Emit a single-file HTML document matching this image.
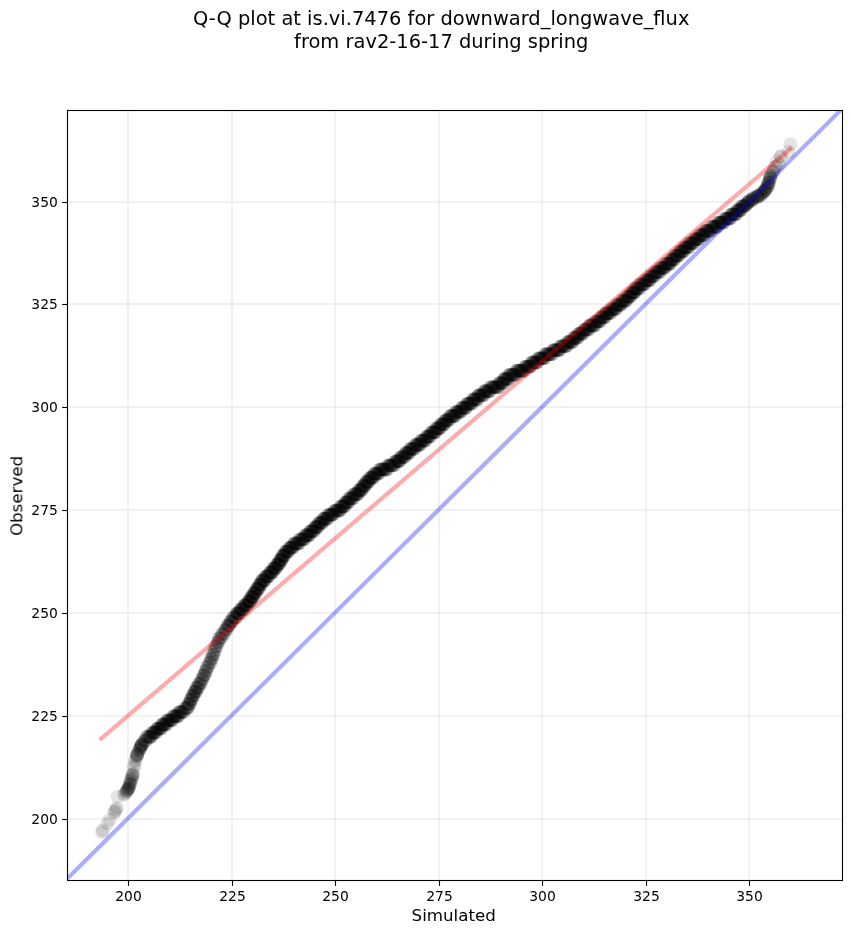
<!DOCTYPE html>
<html lang="en"><head><meta charset="utf-8"><title>Q-Q plot</title>
<style>html,body{margin:0;padding:0;background:#fff;overflow:hidden}svg{display:block}text{font-family:"DejaVu Sans","Liberation Sans",sans-serif;fill:#000}.t{opacity:.999}</style></head><body>
<svg width="851" height="934" viewBox="0 0 851 934">
<rect width="851" height="934" fill="#fff"/>
<clipPath id="ax"><rect x="67.5" y="110.5" width="775.0" height="770.0"/></clipPath>
<g clip-path="url(#ax)">
<g stroke="#b0b0b0" stroke-opacity="0.17" stroke-width="2">
<line x1="128" y1="110.5" x2="128" y2="880.5"/>
<line x1="232" y1="110.5" x2="232" y2="880.5"/>
<line x1="335" y1="110.5" x2="335" y2="880.5"/>
<line x1="439" y1="110.5" x2="439" y2="880.5"/>
<line x1="542" y1="110.5" x2="542" y2="880.5"/>
<line x1="646" y1="110.5" x2="646" y2="880.5"/>
<line x1="749" y1="110.5" x2="749" y2="880.5"/>
<line x1="67.5" y1="819" x2="842.5" y2="819"/>
<line x1="67.5" y1="716" x2="842.5" y2="716"/>
<line x1="67.5" y1="613" x2="842.5" y2="613"/>
<line x1="67.5" y1="510" x2="842.5" y2="510"/>
<line x1="67.5" y1="407" x2="842.5" y2="407"/>
<line x1="67.5" y1="304" x2="842.5" y2="304"/>
<line x1="67.5" y1="202" x2="842.5" y2="202"/>
</g>
<g fill="#000" fill-opacity="0.1">
<circle cx="102.8" cy="830.3" r="6.95"/>
<circle cx="101.9" cy="832.0" r="6.95"/>
<circle cx="107.4" cy="823.5" r="6.95"/>
<circle cx="109.6" cy="819.9" r="6.95"/>
<circle cx="114.2" cy="812.7" r="6.95"/>
<circle cx="115.0" cy="811.5" r="6.95"/>
<circle cx="115.7" cy="809.7" r="6.95"/>
<circle cx="117.1" cy="808.0" r="6.95"/>
<circle cx="117.6" cy="796.7" r="6.95"/>
<circle cx="124.1" cy="794.7" r="6.95"/>
<circle cx="124.5" cy="793.8" r="6.95"/>
<circle cx="127.3" cy="789.8" r="6.95"/>
<circle cx="126.6" cy="791.9" r="6.95"/>
<circle cx="126.5" cy="791.9" r="6.95"/>
<circle cx="126.6" cy="790.9" r="6.95"/>
<circle cx="128.0" cy="789.1" r="6.95"/>
<circle cx="127.8" cy="789.9" r="6.95"/>
<circle cx="128.8" cy="788.0" r="6.95"/>
<circle cx="129.1" cy="787.5" r="6.95"/>
<circle cx="128.3" cy="788.7" r="6.95"/>
<circle cx="130.6" cy="783.6" r="6.95"/>
<circle cx="129.8" cy="784.4" r="6.95"/>
<circle cx="129.6" cy="785.2" r="6.95"/>
<circle cx="130.0" cy="783.8" r="6.95"/>
<circle cx="129.0" cy="787.1" r="6.95"/>
<circle cx="130.1" cy="781.8" r="6.95"/>
<circle cx="131.1" cy="779.8" r="6.95"/>
<circle cx="131.8" cy="778.5" r="6.95"/>
<circle cx="131.0" cy="780.0" r="6.95"/>
<circle cx="132.7" cy="777.1" r="6.95"/>
<circle cx="133.2" cy="773.6" r="6.95"/>
<circle cx="132.7" cy="774.1" r="6.95"/>
<circle cx="132.3" cy="775.3" r="6.95"/>
<circle cx="132.4" cy="775.3" r="6.95"/>
<circle cx="133.8" cy="767.3" r="6.95"/>
<circle cx="134.4" cy="765.6" r="6.95"/>
<circle cx="135.5" cy="760.5" r="6.95"/>
<circle cx="135.2" cy="761.0" r="6.95"/>
<circle cx="136.8" cy="756.2" r="6.95"/>
<circle cx="136.3" cy="756.7" r="6.95"/>
<circle cx="137.5" cy="754.4" r="6.95"/>
<circle cx="137.1" cy="755.8" r="6.95"/>
<circle cx="137.0" cy="754.5" r="6.95"/>
<circle cx="137.5" cy="754.0" r="6.95"/>
<circle cx="137.4" cy="753.9" r="6.95"/>
<circle cx="140.8" cy="747.5" r="6.95"/>
<circle cx="140.0" cy="748.5" r="6.95"/>
<circle cx="140.5" cy="747.7" r="6.95"/>
<circle cx="138.8" cy="750.7" r="6.95"/>
<circle cx="139.9" cy="749.6" r="6.95"/>
<circle cx="139.0" cy="750.2" r="6.95"/>
<circle cx="140.7" cy="746.7" r="6.95"/>
<circle cx="141.8" cy="744.3" r="6.95"/>
<circle cx="142.0" cy="743.9" r="6.95"/>
<circle cx="141.7" cy="744.9" r="6.95"/>
<circle cx="141.8" cy="744.7" r="6.95"/>
<circle cx="141.8" cy="745.1" r="6.95"/>
<circle cx="141.4" cy="745.0" r="6.95"/>
<circle cx="140.6" cy="746.9" r="6.95"/>
<circle cx="144.0" cy="740.9" r="6.95"/>
<circle cx="144.5" cy="740.9" r="6.95"/>
<circle cx="145.0" cy="740.9" r="6.95"/>
<circle cx="145.3" cy="740.9" r="6.95"/>
<circle cx="146.1" cy="740.9" r="6.95"/>
<circle cx="146.2" cy="736.8" r="6.95"/>
<circle cx="146.8" cy="736.8" r="6.95"/>
<circle cx="147.5" cy="736.8" r="6.95"/>
<circle cx="147.7" cy="736.8" r="6.95"/>
<circle cx="148.7" cy="736.8" r="6.95"/>
<circle cx="149.0" cy="736.8" r="6.95"/>
<circle cx="149.7" cy="736.8" r="6.95"/>
<circle cx="149.8" cy="736.8" r="6.95"/>
<circle cx="150.2" cy="736.8" r="6.95"/>
<circle cx="150.7" cy="736.8" r="6.95"/>
<circle cx="151.2" cy="736.8" r="6.95"/>
<circle cx="151.3" cy="736.8" r="6.95"/>
<circle cx="151.9" cy="732.7" r="6.95"/>
<circle cx="152.2" cy="732.7" r="6.95"/>
<circle cx="153.0" cy="732.7" r="6.95"/>
<circle cx="152.9" cy="732.7" r="6.95"/>
<circle cx="153.6" cy="732.7" r="6.95"/>
<circle cx="153.7" cy="732.7" r="6.95"/>
<circle cx="154.0" cy="732.7" r="6.95"/>
<circle cx="154.5" cy="732.7" r="6.95"/>
<circle cx="154.8" cy="732.7" r="6.95"/>
<circle cx="155.4" cy="732.7" r="6.95"/>
<circle cx="156.0" cy="732.7" r="6.95"/>
<circle cx="156.2" cy="732.7" r="6.95"/>
<circle cx="156.7" cy="728.6" r="6.95"/>
<circle cx="157.3" cy="728.6" r="6.95"/>
<circle cx="157.4" cy="728.6" r="6.95"/>
<circle cx="157.8" cy="728.6" r="6.95"/>
<circle cx="158.1" cy="728.6" r="6.95"/>
<circle cx="158.3" cy="728.6" r="6.95"/>
<circle cx="159.1" cy="728.6" r="6.95"/>
<circle cx="159.0" cy="728.6" r="6.95"/>
<circle cx="159.9" cy="728.6" r="6.95"/>
<circle cx="160.2" cy="728.6" r="6.95"/>
<circle cx="160.8" cy="728.6" r="6.95"/>
<circle cx="161.0" cy="728.6" r="6.95"/>
<circle cx="161.2" cy="728.6" r="6.95"/>
<circle cx="161.9" cy="724.5" r="6.95"/>
<circle cx="162.1" cy="724.5" r="6.95"/>
<circle cx="162.5" cy="724.5" r="6.95"/>
<circle cx="163.0" cy="724.5" r="6.95"/>
<circle cx="163.4" cy="724.5" r="6.95"/>
<circle cx="163.7" cy="724.5" r="6.95"/>
<circle cx="164.0" cy="724.5" r="6.95"/>
<circle cx="164.5" cy="724.5" r="6.95"/>
<circle cx="164.6" cy="724.5" r="6.95"/>
<circle cx="165.4" cy="724.5" r="6.95"/>
<circle cx="165.5" cy="724.5" r="6.95"/>
<circle cx="166.4" cy="724.5" r="6.95"/>
<circle cx="166.9" cy="724.5" r="6.95"/>
<circle cx="166.6" cy="720.4" r="6.95"/>
<circle cx="167.4" cy="720.4" r="6.95"/>
<circle cx="167.8" cy="720.4" r="6.95"/>
<circle cx="168.0" cy="720.4" r="6.95"/>
<circle cx="168.7" cy="720.4" r="6.95"/>
<circle cx="169.0" cy="720.4" r="6.95"/>
<circle cx="169.1" cy="720.4" r="6.95"/>
<circle cx="169.9" cy="720.4" r="6.95"/>
<circle cx="170.3" cy="720.4" r="6.95"/>
<circle cx="170.7" cy="720.4" r="6.95"/>
<circle cx="170.9" cy="720.4" r="6.95"/>
<circle cx="171.7" cy="720.4" r="6.95"/>
<circle cx="172.1" cy="720.4" r="6.95"/>
<circle cx="172.2" cy="720.4" r="6.95"/>
<circle cx="172.7" cy="716.3" r="6.95"/>
<circle cx="173.2" cy="716.3" r="6.95"/>
<circle cx="173.6" cy="716.3" r="6.95"/>
<circle cx="174.4" cy="716.3" r="6.95"/>
<circle cx="174.6" cy="716.3" r="6.95"/>
<circle cx="174.7" cy="716.3" r="6.95"/>
<circle cx="175.2" cy="716.3" r="6.95"/>
<circle cx="175.8" cy="716.3" r="6.95"/>
<circle cx="176.7" cy="716.3" r="6.95"/>
<circle cx="176.6" cy="716.3" r="6.95"/>
<circle cx="177.1" cy="716.3" r="6.95"/>
<circle cx="177.5" cy="716.3" r="6.95"/>
<circle cx="177.9" cy="716.3" r="6.95"/>
<circle cx="178.8" cy="716.3" r="6.95"/>
<circle cx="178.6" cy="712.2" r="6.95"/>
<circle cx="179.3" cy="712.2" r="6.95"/>
<circle cx="179.6" cy="712.2" r="6.95"/>
<circle cx="180.1" cy="712.2" r="6.95"/>
<circle cx="180.1" cy="712.2" r="6.95"/>
<circle cx="181.1" cy="712.2" r="6.95"/>
<circle cx="181.2" cy="712.2" r="6.95"/>
<circle cx="181.7" cy="712.2" r="6.95"/>
<circle cx="181.9" cy="712.2" r="6.95"/>
<circle cx="182.6" cy="712.2" r="6.95"/>
<circle cx="183.4" cy="712.2" r="6.95"/>
<circle cx="184.1" cy="712.2" r="6.95"/>
<circle cx="184.7" cy="708.0" r="6.95"/>
<circle cx="185.4" cy="708.0" r="6.95"/>
<circle cx="185.9" cy="708.0" r="6.95"/>
<circle cx="186.3" cy="708.0" r="6.95"/>
<circle cx="187.1" cy="708.0" r="6.95"/>
<circle cx="187.4" cy="708.0" r="6.95"/>
<circle cx="187.6" cy="708.0" r="6.95"/>
<circle cx="188.1" cy="708.0" r="6.95"/>
<circle cx="188.5" cy="703.9" r="6.95"/>
<circle cx="188.6" cy="703.9" r="6.95"/>
<circle cx="188.8" cy="703.9" r="6.95"/>
<circle cx="189.4" cy="703.9" r="6.95"/>
<circle cx="189.9" cy="703.9" r="6.95"/>
<circle cx="189.9" cy="703.9" r="6.95"/>
<circle cx="190.2" cy="699.8" r="6.95"/>
<circle cx="190.5" cy="699.8" r="6.95"/>
<circle cx="191.1" cy="699.8" r="6.95"/>
<circle cx="190.9" cy="699.8" r="6.95"/>
<circle cx="191.6" cy="699.8" r="6.95"/>
<circle cx="192.1" cy="699.8" r="6.95"/>
<circle cx="192.1" cy="695.7" r="6.95"/>
<circle cx="192.8" cy="695.7" r="6.95"/>
<circle cx="193.0" cy="695.7" r="6.95"/>
<circle cx="193.1" cy="695.7" r="6.95"/>
<circle cx="193.6" cy="695.7" r="6.95"/>
<circle cx="193.6" cy="695.7" r="6.95"/>
<circle cx="194.1" cy="691.6" r="6.95"/>
<circle cx="194.9" cy="691.6" r="6.95"/>
<circle cx="194.7" cy="691.6" r="6.95"/>
<circle cx="195.6" cy="691.6" r="6.95"/>
<circle cx="195.5" cy="691.6" r="6.95"/>
<circle cx="196.1" cy="691.6" r="6.95"/>
<circle cx="196.2" cy="691.6" r="6.95"/>
<circle cx="196.1" cy="687.5" r="6.95"/>
<circle cx="196.9" cy="687.5" r="6.95"/>
<circle cx="197.5" cy="687.5" r="6.95"/>
<circle cx="197.6" cy="687.5" r="6.95"/>
<circle cx="198.0" cy="687.5" r="6.95"/>
<circle cx="198.7" cy="687.5" r="6.95"/>
<circle cx="199.0" cy="683.4" r="6.95"/>
<circle cx="199.1" cy="683.4" r="6.95"/>
<circle cx="199.7" cy="683.4" r="6.95"/>
<circle cx="200.3" cy="683.4" r="6.95"/>
<circle cx="200.5" cy="683.4" r="6.95"/>
<circle cx="201.2" cy="683.4" r="6.95"/>
<circle cx="201.8" cy="679.2" r="6.95"/>
<circle cx="201.9" cy="679.2" r="6.95"/>
<circle cx="202.1" cy="679.2" r="6.95"/>
<circle cx="202.5" cy="679.2" r="6.95"/>
<circle cx="203.2" cy="675.1" r="6.95"/>
<circle cx="203.8" cy="675.1" r="6.95"/>
<circle cx="204.1" cy="675.1" r="6.95"/>
<circle cx="204.6" cy="675.1" r="6.95"/>
<circle cx="204.8" cy="675.1" r="6.95"/>
<circle cx="205.4" cy="671.0" r="6.95"/>
<circle cx="205.7" cy="671.0" r="6.95"/>
<circle cx="206.1" cy="671.0" r="6.95"/>
<circle cx="206.3" cy="671.0" r="6.95"/>
<circle cx="206.7" cy="666.9" r="6.95"/>
<circle cx="207.4" cy="666.9" r="6.95"/>
<circle cx="207.7" cy="666.9" r="6.95"/>
<circle cx="208.3" cy="666.9" r="6.95"/>
<circle cx="209.1" cy="662.8" r="6.95"/>
<circle cx="209.4" cy="662.8" r="6.95"/>
<circle cx="210.5" cy="662.8" r="6.95"/>
<circle cx="210.6" cy="662.8" r="6.95"/>
<circle cx="210.7" cy="658.7" r="6.95"/>
<circle cx="211.5" cy="658.7" r="6.95"/>
<circle cx="211.9" cy="658.7" r="6.95"/>
<circle cx="212.2" cy="658.7" r="6.95"/>
<circle cx="212.9" cy="654.6" r="6.95"/>
<circle cx="212.9" cy="654.6" r="6.95"/>
<circle cx="212.9" cy="654.6" r="6.95"/>
<circle cx="214.0" cy="654.6" r="6.95"/>
<circle cx="214.1" cy="650.5" r="6.95"/>
<circle cx="214.9" cy="650.5" r="6.95"/>
<circle cx="214.9" cy="650.5" r="6.95"/>
<circle cx="215.2" cy="646.3" r="6.95"/>
<circle cx="216.2" cy="646.3" r="6.95"/>
<circle cx="216.1" cy="646.3" r="6.95"/>
<circle cx="216.9" cy="646.3" r="6.95"/>
<circle cx="217.6" cy="642.2" r="6.95"/>
<circle cx="217.7" cy="642.2" r="6.95"/>
<circle cx="218.1" cy="642.2" r="6.95"/>
<circle cx="218.6" cy="642.2" r="6.95"/>
<circle cx="219.1" cy="638.1" r="6.95"/>
<circle cx="219.2" cy="638.1" r="6.95"/>
<circle cx="220.0" cy="638.1" r="6.95"/>
<circle cx="220.6" cy="638.1" r="6.95"/>
<circle cx="221.5" cy="638.1" r="6.95"/>
<circle cx="221.6" cy="634.0" r="6.95"/>
<circle cx="222.1" cy="634.0" r="6.95"/>
<circle cx="223.0" cy="634.0" r="6.95"/>
<circle cx="223.4" cy="634.0" r="6.95"/>
<circle cx="224.2" cy="634.0" r="6.95"/>
<circle cx="224.7" cy="629.9" r="6.95"/>
<circle cx="225.5" cy="629.9" r="6.95"/>
<circle cx="225.8" cy="629.9" r="6.95"/>
<circle cx="226.3" cy="629.9" r="6.95"/>
<circle cx="226.3" cy="629.9" r="6.95"/>
<circle cx="227.0" cy="625.8" r="6.95"/>
<circle cx="227.9" cy="625.8" r="6.95"/>
<circle cx="227.8" cy="625.8" r="6.95"/>
<circle cx="228.2" cy="625.8" r="6.95"/>
<circle cx="228.5" cy="625.8" r="6.95"/>
<circle cx="229.3" cy="625.8" r="6.95"/>
<circle cx="229.6" cy="625.8" r="6.95"/>
<circle cx="229.7" cy="621.7" r="6.95"/>
<circle cx="230.5" cy="621.7" r="6.95"/>
<circle cx="230.8" cy="621.7" r="6.95"/>
<circle cx="231.3" cy="621.7" r="6.95"/>
<circle cx="231.4" cy="621.7" r="6.95"/>
<circle cx="232.3" cy="621.7" r="6.95"/>
<circle cx="232.5" cy="621.7" r="6.95"/>
<circle cx="232.8" cy="617.5" r="6.95"/>
<circle cx="233.2" cy="617.5" r="6.95"/>
<circle cx="233.7" cy="617.5" r="6.95"/>
<circle cx="234.4" cy="617.5" r="6.95"/>
<circle cx="234.6" cy="617.5" r="6.95"/>
<circle cx="235.4" cy="617.5" r="6.95"/>
<circle cx="235.8" cy="617.5" r="6.95"/>
<circle cx="236.3" cy="617.5" r="6.95"/>
<circle cx="236.6" cy="613.4" r="6.95"/>
<circle cx="236.7" cy="613.4" r="6.95"/>
<circle cx="236.7" cy="613.4" r="6.95"/>
<circle cx="237.5" cy="613.4" r="6.95"/>
<circle cx="237.9" cy="613.4" r="6.95"/>
<circle cx="238.1" cy="613.4" r="6.95"/>
<circle cx="238.6" cy="613.4" r="6.95"/>
<circle cx="238.7" cy="613.4" r="6.95"/>
<circle cx="239.0" cy="613.4" r="6.95"/>
<circle cx="239.3" cy="613.4" r="6.95"/>
<circle cx="240.1" cy="613.4" r="6.95"/>
<circle cx="240.2" cy="609.3" r="6.95"/>
<circle cx="240.4" cy="609.3" r="6.95"/>
<circle cx="240.5" cy="609.3" r="6.95"/>
<circle cx="241.2" cy="609.3" r="6.95"/>
<circle cx="241.8" cy="609.3" r="6.95"/>
<circle cx="242.0" cy="609.3" r="6.95"/>
<circle cx="242.1" cy="609.3" r="6.95"/>
<circle cx="242.9" cy="609.3" r="6.95"/>
<circle cx="243.2" cy="609.3" r="6.95"/>
<circle cx="243.5" cy="609.3" r="6.95"/>
<circle cx="243.8" cy="609.3" r="6.95"/>
<circle cx="244.2" cy="605.2" r="6.95"/>
<circle cx="244.5" cy="605.2" r="6.95"/>
<circle cx="244.9" cy="605.2" r="6.95"/>
<circle cx="244.9" cy="605.2" r="6.95"/>
<circle cx="245.7" cy="605.2" r="6.95"/>
<circle cx="245.8" cy="605.2" r="6.95"/>
<circle cx="246.5" cy="605.2" r="6.95"/>
<circle cx="246.1" cy="605.2" r="6.95"/>
<circle cx="247.0" cy="605.2" r="6.95"/>
<circle cx="247.4" cy="605.2" r="6.95"/>
<circle cx="247.4" cy="605.2" r="6.95"/>
<circle cx="248.0" cy="601.1" r="6.95"/>
<circle cx="248.4" cy="601.1" r="6.95"/>
<circle cx="248.7" cy="601.1" r="6.95"/>
<circle cx="248.8" cy="601.1" r="6.95"/>
<circle cx="249.3" cy="601.1" r="6.95"/>
<circle cx="249.8" cy="601.1" r="6.95"/>
<circle cx="250.1" cy="601.1" r="6.95"/>
<circle cx="250.1" cy="601.1" r="6.95"/>
<circle cx="250.4" cy="601.1" r="6.95"/>
<circle cx="250.7" cy="601.1" r="6.95"/>
<circle cx="251.2" cy="597.0" r="6.95"/>
<circle cx="251.0" cy="597.0" r="6.95"/>
<circle cx="251.3" cy="597.0" r="6.95"/>
<circle cx="251.8" cy="597.0" r="6.95"/>
<circle cx="251.9" cy="597.0" r="6.95"/>
<circle cx="252.2" cy="597.0" r="6.95"/>
<circle cx="252.7" cy="597.0" r="6.95"/>
<circle cx="253.0" cy="597.0" r="6.95"/>
<circle cx="253.0" cy="597.0" r="6.95"/>
<circle cx="253.6" cy="597.0" r="6.95"/>
<circle cx="253.4" cy="592.9" r="6.95"/>
<circle cx="254.1" cy="592.9" r="6.95"/>
<circle cx="254.0" cy="592.9" r="6.95"/>
<circle cx="254.3" cy="592.9" r="6.95"/>
<circle cx="255.0" cy="592.9" r="6.95"/>
<circle cx="255.1" cy="592.9" r="6.95"/>
<circle cx="255.3" cy="592.9" r="6.95"/>
<circle cx="255.6" cy="592.9" r="6.95"/>
<circle cx="256.1" cy="592.9" r="6.95"/>
<circle cx="256.3" cy="588.8" r="6.95"/>
<circle cx="256.5" cy="588.8" r="6.95"/>
<circle cx="257.1" cy="588.8" r="6.95"/>
<circle cx="257.0" cy="588.8" r="6.95"/>
<circle cx="257.3" cy="588.8" r="6.95"/>
<circle cx="257.6" cy="588.8" r="6.95"/>
<circle cx="258.2" cy="588.8" r="6.95"/>
<circle cx="258.4" cy="588.8" r="6.95"/>
<circle cx="258.8" cy="588.8" r="6.95"/>
<circle cx="258.8" cy="588.8" r="6.95"/>
<circle cx="259.0" cy="584.6" r="6.95"/>
<circle cx="259.5" cy="584.6" r="6.95"/>
<circle cx="259.5" cy="584.6" r="6.95"/>
<circle cx="260.1" cy="584.6" r="6.95"/>
<circle cx="260.3" cy="584.6" r="6.95"/>
<circle cx="260.3" cy="584.6" r="6.95"/>
<circle cx="260.7" cy="584.6" r="6.95"/>
<circle cx="261.0" cy="584.6" r="6.95"/>
<circle cx="261.7" cy="584.6" r="6.95"/>
<circle cx="262.1" cy="580.5" r="6.95"/>
<circle cx="261.9" cy="580.5" r="6.95"/>
<circle cx="262.3" cy="580.5" r="6.95"/>
<circle cx="262.2" cy="580.5" r="6.95"/>
<circle cx="263.1" cy="580.5" r="6.95"/>
<circle cx="263.4" cy="580.5" r="6.95"/>
<circle cx="263.5" cy="580.5" r="6.95"/>
<circle cx="264.2" cy="580.5" r="6.95"/>
<circle cx="264.1" cy="580.5" r="6.95"/>
<circle cx="264.7" cy="580.5" r="6.95"/>
<circle cx="265.2" cy="580.5" r="6.95"/>
<circle cx="265.3" cy="576.4" r="6.95"/>
<circle cx="266.0" cy="576.4" r="6.95"/>
<circle cx="266.4" cy="576.4" r="6.95"/>
<circle cx="266.3" cy="576.4" r="6.95"/>
<circle cx="266.6" cy="576.4" r="6.95"/>
<circle cx="267.4" cy="576.4" r="6.95"/>
<circle cx="267.6" cy="576.4" r="6.95"/>
<circle cx="267.8" cy="576.4" r="6.95"/>
<circle cx="268.3" cy="576.4" r="6.95"/>
<circle cx="268.7" cy="576.4" r="6.95"/>
<circle cx="269.0" cy="576.4" r="6.95"/>
<circle cx="269.6" cy="572.3" r="6.95"/>
<circle cx="269.8" cy="572.3" r="6.95"/>
<circle cx="270.5" cy="572.3" r="6.95"/>
<circle cx="270.7" cy="572.3" r="6.95"/>
<circle cx="270.9" cy="572.3" r="6.95"/>
<circle cx="271.3" cy="572.3" r="6.95"/>
<circle cx="271.7" cy="572.3" r="6.95"/>
<circle cx="271.9" cy="572.3" r="6.95"/>
<circle cx="271.9" cy="572.3" r="6.95"/>
<circle cx="272.6" cy="572.3" r="6.95"/>
<circle cx="272.8" cy="572.3" r="6.95"/>
<circle cx="273.4" cy="568.2" r="6.95"/>
<circle cx="273.5" cy="568.2" r="6.95"/>
<circle cx="273.9" cy="568.2" r="6.95"/>
<circle cx="274.2" cy="568.2" r="6.95"/>
<circle cx="274.7" cy="568.2" r="6.95"/>
<circle cx="274.8" cy="568.2" r="6.95"/>
<circle cx="275.0" cy="568.2" r="6.95"/>
<circle cx="275.5" cy="568.2" r="6.95"/>
<circle cx="275.6" cy="568.2" r="6.95"/>
<circle cx="276.1" cy="568.2" r="6.95"/>
<circle cx="276.4" cy="568.2" r="6.95"/>
<circle cx="276.8" cy="564.1" r="6.95"/>
<circle cx="277.4" cy="564.1" r="6.95"/>
<circle cx="277.3" cy="564.1" r="6.95"/>
<circle cx="277.7" cy="564.1" r="6.95"/>
<circle cx="278.0" cy="564.1" r="6.95"/>
<circle cx="278.5" cy="564.1" r="6.95"/>
<circle cx="278.4" cy="564.1" r="6.95"/>
<circle cx="278.8" cy="564.1" r="6.95"/>
<circle cx="279.2" cy="564.1" r="6.95"/>
<circle cx="279.6" cy="564.1" r="6.95"/>
<circle cx="279.7" cy="560.0" r="6.95"/>
<circle cx="279.9" cy="560.0" r="6.95"/>
<circle cx="280.1" cy="560.0" r="6.95"/>
<circle cx="280.6" cy="560.0" r="6.95"/>
<circle cx="281.1" cy="560.0" r="6.95"/>
<circle cx="281.1" cy="560.0" r="6.95"/>
<circle cx="281.4" cy="560.0" r="6.95"/>
<circle cx="281.7" cy="560.0" r="6.95"/>
<circle cx="281.7" cy="560.0" r="6.95"/>
<circle cx="282.1" cy="555.8" r="6.95"/>
<circle cx="282.3" cy="555.8" r="6.95"/>
<circle cx="282.7" cy="555.8" r="6.95"/>
<circle cx="282.9" cy="555.8" r="6.95"/>
<circle cx="283.0" cy="555.8" r="6.95"/>
<circle cx="283.7" cy="555.8" r="6.95"/>
<circle cx="284.1" cy="555.8" r="6.95"/>
<circle cx="284.0" cy="555.8" r="6.95"/>
<circle cx="284.4" cy="555.8" r="6.95"/>
<circle cx="284.7" cy="555.8" r="6.95"/>
<circle cx="285.2" cy="551.7" r="6.95"/>
<circle cx="285.1" cy="551.7" r="6.95"/>
<circle cx="286.1" cy="551.7" r="6.95"/>
<circle cx="286.1" cy="551.7" r="6.95"/>
<circle cx="286.8" cy="551.7" r="6.95"/>
<circle cx="286.9" cy="551.7" r="6.95"/>
<circle cx="287.2" cy="551.7" r="6.95"/>
<circle cx="287.6" cy="551.7" r="6.95"/>
<circle cx="288.2" cy="551.7" r="6.95"/>
<circle cx="288.2" cy="551.7" r="6.95"/>
<circle cx="288.7" cy="551.7" r="6.95"/>
<circle cx="289.0" cy="547.6" r="6.95"/>
<circle cx="289.2" cy="547.6" r="6.95"/>
<circle cx="290.2" cy="547.6" r="6.95"/>
<circle cx="290.4" cy="547.6" r="6.95"/>
<circle cx="290.6" cy="547.6" r="6.95"/>
<circle cx="291.3" cy="547.6" r="6.95"/>
<circle cx="291.2" cy="547.6" r="6.95"/>
<circle cx="291.8" cy="547.6" r="6.95"/>
<circle cx="292.5" cy="547.6" r="6.95"/>
<circle cx="292.7" cy="547.6" r="6.95"/>
<circle cx="292.5" cy="547.6" r="6.95"/>
<circle cx="292.6" cy="547.6" r="6.95"/>
<circle cx="293.5" cy="543.5" r="6.95"/>
<circle cx="294.3" cy="543.5" r="6.95"/>
<circle cx="294.4" cy="543.5" r="6.95"/>
<circle cx="294.8" cy="543.5" r="6.95"/>
<circle cx="295.4" cy="543.5" r="6.95"/>
<circle cx="295.6" cy="543.5" r="6.95"/>
<circle cx="296.2" cy="543.5" r="6.95"/>
<circle cx="296.7" cy="543.5" r="6.95"/>
<circle cx="297.1" cy="543.5" r="6.95"/>
<circle cx="297.5" cy="543.5" r="6.95"/>
<circle cx="297.7" cy="543.5" r="6.95"/>
<circle cx="298.3" cy="543.5" r="6.95"/>
<circle cx="298.6" cy="543.5" r="6.95"/>
<circle cx="299.4" cy="543.5" r="6.95"/>
<circle cx="300.0" cy="539.4" r="6.95"/>
<circle cx="299.8" cy="539.4" r="6.95"/>
<circle cx="299.9" cy="539.4" r="6.95"/>
<circle cx="300.7" cy="539.4" r="6.95"/>
<circle cx="301.3" cy="539.4" r="6.95"/>
<circle cx="301.8" cy="539.4" r="6.95"/>
<circle cx="302.3" cy="539.4" r="6.95"/>
<circle cx="302.3" cy="539.4" r="6.95"/>
<circle cx="302.7" cy="539.4" r="6.95"/>
<circle cx="303.5" cy="539.4" r="6.95"/>
<circle cx="303.5" cy="539.4" r="6.95"/>
<circle cx="304.3" cy="539.4" r="6.95"/>
<circle cx="304.4" cy="539.4" r="6.95"/>
<circle cx="305.0" cy="535.3" r="6.95"/>
<circle cx="305.4" cy="535.3" r="6.95"/>
<circle cx="305.8" cy="535.3" r="6.95"/>
<circle cx="306.2" cy="535.3" r="6.95"/>
<circle cx="306.2" cy="535.3" r="6.95"/>
<circle cx="306.9" cy="535.3" r="6.95"/>
<circle cx="307.2" cy="535.3" r="6.95"/>
<circle cx="307.6" cy="535.3" r="6.95"/>
<circle cx="308.2" cy="535.3" r="6.95"/>
<circle cx="308.3" cy="535.3" r="6.95"/>
<circle cx="308.6" cy="535.3" r="6.95"/>
<circle cx="309.0" cy="535.3" r="6.95"/>
<circle cx="309.5" cy="535.3" r="6.95"/>
<circle cx="310.1" cy="531.2" r="6.95"/>
<circle cx="310.2" cy="531.2" r="6.95"/>
<circle cx="311.0" cy="531.2" r="6.95"/>
<circle cx="311.2" cy="531.2" r="6.95"/>
<circle cx="311.5" cy="531.2" r="6.95"/>
<circle cx="311.6" cy="531.2" r="6.95"/>
<circle cx="312.3" cy="531.2" r="6.95"/>
<circle cx="312.8" cy="531.2" r="6.95"/>
<circle cx="312.7" cy="531.2" r="6.95"/>
<circle cx="313.7" cy="531.2" r="6.95"/>
<circle cx="314.1" cy="531.2" r="6.95"/>
<circle cx="314.2" cy="531.2" r="6.95"/>
<circle cx="314.6" cy="527.1" r="6.95"/>
<circle cx="315.3" cy="527.1" r="6.95"/>
<circle cx="315.5" cy="527.1" r="6.95"/>
<circle cx="315.4" cy="527.1" r="6.95"/>
<circle cx="316.0" cy="527.1" r="6.95"/>
<circle cx="316.3" cy="527.1" r="6.95"/>
<circle cx="316.6" cy="527.1" r="6.95"/>
<circle cx="316.6" cy="527.1" r="6.95"/>
<circle cx="317.6" cy="527.1" r="6.95"/>
<circle cx="317.6" cy="527.1" r="6.95"/>
<circle cx="318.1" cy="527.1" r="6.95"/>
<circle cx="318.5" cy="522.9" r="6.95"/>
<circle cx="319.0" cy="522.9" r="6.95"/>
<circle cx="319.2" cy="522.9" r="6.95"/>
<circle cx="319.4" cy="522.9" r="6.95"/>
<circle cx="320.1" cy="522.9" r="6.95"/>
<circle cx="320.6" cy="522.9" r="6.95"/>
<circle cx="320.6" cy="522.9" r="6.95"/>
<circle cx="321.3" cy="522.9" r="6.95"/>
<circle cx="321.5" cy="522.9" r="6.95"/>
<circle cx="321.6" cy="522.9" r="6.95"/>
<circle cx="322.4" cy="522.9" r="6.95"/>
<circle cx="322.4" cy="522.9" r="6.95"/>
<circle cx="323.2" cy="518.8" r="6.95"/>
<circle cx="323.3" cy="518.8" r="6.95"/>
<circle cx="323.8" cy="518.8" r="6.95"/>
<circle cx="324.0" cy="518.8" r="6.95"/>
<circle cx="324.4" cy="518.8" r="6.95"/>
<circle cx="325.2" cy="518.8" r="6.95"/>
<circle cx="325.4" cy="518.8" r="6.95"/>
<circle cx="325.8" cy="518.8" r="6.95"/>
<circle cx="326.1" cy="518.8" r="6.95"/>
<circle cx="326.7" cy="518.8" r="6.95"/>
<circle cx="326.8" cy="518.8" r="6.95"/>
<circle cx="327.2" cy="518.8" r="6.95"/>
<circle cx="327.8" cy="518.8" r="6.95"/>
<circle cx="328.1" cy="514.7" r="6.95"/>
<circle cx="328.5" cy="514.7" r="6.95"/>
<circle cx="329.1" cy="514.7" r="6.95"/>
<circle cx="329.5" cy="514.7" r="6.95"/>
<circle cx="329.9" cy="514.7" r="6.95"/>
<circle cx="330.6" cy="514.7" r="6.95"/>
<circle cx="330.9" cy="514.7" r="6.95"/>
<circle cx="331.4" cy="514.7" r="6.95"/>
<circle cx="331.5" cy="514.7" r="6.95"/>
<circle cx="331.9" cy="514.7" r="6.95"/>
<circle cx="332.1" cy="514.7" r="6.95"/>
<circle cx="332.8" cy="514.7" r="6.95"/>
<circle cx="332.8" cy="514.7" r="6.95"/>
<circle cx="333.6" cy="514.7" r="6.95"/>
<circle cx="334.3" cy="510.6" r="6.95"/>
<circle cx="334.9" cy="510.6" r="6.95"/>
<circle cx="335.2" cy="510.6" r="6.95"/>
<circle cx="335.2" cy="510.6" r="6.95"/>
<circle cx="336.0" cy="510.6" r="6.95"/>
<circle cx="336.1" cy="510.6" r="6.95"/>
<circle cx="336.9" cy="510.6" r="6.95"/>
<circle cx="337.1" cy="510.6" r="6.95"/>
<circle cx="337.8" cy="510.6" r="6.95"/>
<circle cx="338.5" cy="510.6" r="6.95"/>
<circle cx="338.6" cy="510.6" r="6.95"/>
<circle cx="339.3" cy="510.6" r="6.95"/>
<circle cx="339.3" cy="510.6" r="6.95"/>
<circle cx="339.7" cy="510.6" r="6.95"/>
<circle cx="340.4" cy="510.6" r="6.95"/>
<circle cx="341.0" cy="506.5" r="6.95"/>
<circle cx="340.9" cy="506.5" r="6.95"/>
<circle cx="341.4" cy="506.5" r="6.95"/>
<circle cx="341.4" cy="506.5" r="6.95"/>
<circle cx="342.1" cy="506.5" r="6.95"/>
<circle cx="342.6" cy="506.5" r="6.95"/>
<circle cx="342.8" cy="506.5" r="6.95"/>
<circle cx="343.1" cy="506.5" r="6.95"/>
<circle cx="343.3" cy="506.5" r="6.95"/>
<circle cx="344.0" cy="506.5" r="6.95"/>
<circle cx="344.4" cy="506.5" r="6.95"/>
<circle cx="344.8" cy="506.5" r="6.95"/>
<circle cx="345.1" cy="502.4" r="6.95"/>
<circle cx="345.1" cy="502.4" r="6.95"/>
<circle cx="346.1" cy="502.4" r="6.95"/>
<circle cx="346.1" cy="502.4" r="6.95"/>
<circle cx="346.5" cy="502.4" r="6.95"/>
<circle cx="347.0" cy="502.4" r="6.95"/>
<circle cx="346.8" cy="502.4" r="6.95"/>
<circle cx="347.6" cy="502.4" r="6.95"/>
<circle cx="347.9" cy="502.4" r="6.95"/>
<circle cx="348.4" cy="502.4" r="6.95"/>
<circle cx="348.9" cy="502.4" r="6.95"/>
<circle cx="349.1" cy="498.3" r="6.95"/>
<circle cx="349.1" cy="498.3" r="6.95"/>
<circle cx="349.7" cy="498.3" r="6.95"/>
<circle cx="350.2" cy="498.3" r="6.95"/>
<circle cx="350.6" cy="498.3" r="6.95"/>
<circle cx="350.7" cy="498.3" r="6.95"/>
<circle cx="351.0" cy="498.3" r="6.95"/>
<circle cx="351.9" cy="498.3" r="6.95"/>
<circle cx="352.2" cy="498.3" r="6.95"/>
<circle cx="352.6" cy="498.3" r="6.95"/>
<circle cx="352.6" cy="498.3" r="6.95"/>
<circle cx="353.7" cy="498.3" r="6.95"/>
<circle cx="353.1" cy="494.1" r="6.95"/>
<circle cx="354.1" cy="494.1" r="6.95"/>
<circle cx="355.0" cy="494.1" r="6.95"/>
<circle cx="354.9" cy="494.1" r="6.95"/>
<circle cx="355.4" cy="494.1" r="6.95"/>
<circle cx="355.5" cy="494.1" r="6.95"/>
<circle cx="356.4" cy="494.1" r="6.95"/>
<circle cx="356.2" cy="494.1" r="6.95"/>
<circle cx="357.0" cy="494.1" r="6.95"/>
<circle cx="357.3" cy="494.1" r="6.95"/>
<circle cx="357.5" cy="494.1" r="6.95"/>
<circle cx="358.3" cy="494.1" r="6.95"/>
<circle cx="358.2" cy="494.1" r="6.95"/>
<circle cx="358.7" cy="490.0" r="6.95"/>
<circle cx="359.2" cy="490.0" r="6.95"/>
<circle cx="359.4" cy="490.0" r="6.95"/>
<circle cx="360.0" cy="490.0" r="6.95"/>
<circle cx="360.4" cy="490.0" r="6.95"/>
<circle cx="360.5" cy="490.0" r="6.95"/>
<circle cx="360.7" cy="490.0" r="6.95"/>
<circle cx="361.1" cy="490.0" r="6.95"/>
<circle cx="361.4" cy="490.0" r="6.95"/>
<circle cx="362.0" cy="490.0" r="6.95"/>
<circle cx="362.1" cy="490.0" r="6.95"/>
<circle cx="362.6" cy="485.9" r="6.95"/>
<circle cx="362.8" cy="485.9" r="6.95"/>
<circle cx="363.0" cy="485.9" r="6.95"/>
<circle cx="363.7" cy="485.9" r="6.95"/>
<circle cx="363.6" cy="485.9" r="6.95"/>
<circle cx="364.2" cy="485.9" r="6.95"/>
<circle cx="364.8" cy="485.9" r="6.95"/>
<circle cx="364.6" cy="485.9" r="6.95"/>
<circle cx="365.1" cy="485.9" r="6.95"/>
<circle cx="365.2" cy="485.9" r="6.95"/>
<circle cx="365.7" cy="481.8" r="6.95"/>
<circle cx="365.8" cy="481.8" r="6.95"/>
<circle cx="366.4" cy="481.8" r="6.95"/>
<circle cx="366.7" cy="481.8" r="6.95"/>
<circle cx="367.1" cy="481.8" r="6.95"/>
<circle cx="367.8" cy="481.8" r="6.95"/>
<circle cx="367.8" cy="481.8" r="6.95"/>
<circle cx="368.2" cy="481.8" r="6.95"/>
<circle cx="368.5" cy="481.8" r="6.95"/>
<circle cx="368.8" cy="481.8" r="6.95"/>
<circle cx="369.1" cy="481.8" r="6.95"/>
<circle cx="369.3" cy="477.7" r="6.95"/>
<circle cx="370.0" cy="477.7" r="6.95"/>
<circle cx="370.7" cy="477.7" r="6.95"/>
<circle cx="370.9" cy="477.7" r="6.95"/>
<circle cx="371.0" cy="477.7" r="6.95"/>
<circle cx="371.8" cy="477.7" r="6.95"/>
<circle cx="371.8" cy="477.7" r="6.95"/>
<circle cx="372.2" cy="477.7" r="6.95"/>
<circle cx="372.4" cy="477.7" r="6.95"/>
<circle cx="372.8" cy="477.7" r="6.95"/>
<circle cx="373.4" cy="477.7" r="6.95"/>
<circle cx="374.2" cy="477.7" r="6.95"/>
<circle cx="374.1" cy="473.6" r="6.95"/>
<circle cx="374.3" cy="473.6" r="6.95"/>
<circle cx="374.8" cy="473.6" r="6.95"/>
<circle cx="375.3" cy="473.6" r="6.95"/>
<circle cx="375.4" cy="473.6" r="6.95"/>
<circle cx="376.1" cy="473.6" r="6.95"/>
<circle cx="376.6" cy="473.6" r="6.95"/>
<circle cx="376.9" cy="473.6" r="6.95"/>
<circle cx="377.3" cy="473.6" r="6.95"/>
<circle cx="377.3" cy="473.6" r="6.95"/>
<circle cx="377.7" cy="473.6" r="6.95"/>
<circle cx="378.8" cy="473.6" r="6.95"/>
<circle cx="379.2" cy="473.6" r="6.95"/>
<circle cx="379.1" cy="469.5" r="6.95"/>
<circle cx="380.0" cy="469.5" r="6.95"/>
<circle cx="380.4" cy="469.5" r="6.95"/>
<circle cx="380.9" cy="469.5" r="6.95"/>
<circle cx="381.3" cy="469.5" r="6.95"/>
<circle cx="381.6" cy="469.5" r="6.95"/>
<circle cx="382.2" cy="469.5" r="6.95"/>
<circle cx="382.7" cy="469.5" r="6.95"/>
<circle cx="383.1" cy="469.5" r="6.95"/>
<circle cx="383.2" cy="469.5" r="6.95"/>
<circle cx="383.4" cy="469.5" r="6.95"/>
<circle cx="384.3" cy="469.5" r="6.95"/>
<circle cx="384.6" cy="469.5" r="6.95"/>
<circle cx="385.5" cy="469.5" r="6.95"/>
<circle cx="386.0" cy="469.5" r="6.95"/>
<circle cx="386.4" cy="469.5" r="6.95"/>
<circle cx="386.7" cy="469.5" r="6.95"/>
<circle cx="387.3" cy="469.5" r="6.95"/>
<circle cx="387.9" cy="465.4" r="6.95"/>
<circle cx="388.0" cy="465.4" r="6.95"/>
<circle cx="388.8" cy="465.4" r="6.95"/>
<circle cx="389.2" cy="465.4" r="6.95"/>
<circle cx="389.5" cy="465.4" r="6.95"/>
<circle cx="390.2" cy="465.4" r="6.95"/>
<circle cx="390.2" cy="465.4" r="6.95"/>
<circle cx="391.0" cy="465.4" r="6.95"/>
<circle cx="391.1" cy="465.4" r="6.95"/>
<circle cx="391.6" cy="465.4" r="6.95"/>
<circle cx="392.0" cy="465.4" r="6.95"/>
<circle cx="392.7" cy="465.4" r="6.95"/>
<circle cx="392.9" cy="465.4" r="6.95"/>
<circle cx="393.5" cy="465.4" r="6.95"/>
<circle cx="393.8" cy="465.4" r="6.95"/>
<circle cx="394.6" cy="465.4" r="6.95"/>
<circle cx="395.2" cy="461.2" r="6.95"/>
<circle cx="395.3" cy="461.2" r="6.95"/>
<circle cx="396.1" cy="461.2" r="6.95"/>
<circle cx="396.3" cy="461.2" r="6.95"/>
<circle cx="397.0" cy="461.2" r="6.95"/>
<circle cx="397.0" cy="461.2" r="6.95"/>
<circle cx="397.1" cy="461.2" r="6.95"/>
<circle cx="398.1" cy="461.2" r="6.95"/>
<circle cx="398.2" cy="461.2" r="6.95"/>
<circle cx="398.4" cy="461.2" r="6.95"/>
<circle cx="398.8" cy="461.2" r="6.95"/>
<circle cx="399.0" cy="461.2" r="6.95"/>
<circle cx="399.7" cy="461.2" r="6.95"/>
<circle cx="399.9" cy="461.2" r="6.95"/>
<circle cx="400.8" cy="457.1" r="6.95"/>
<circle cx="401.1" cy="457.1" r="6.95"/>
<circle cx="401.0" cy="457.1" r="6.95"/>
<circle cx="401.4" cy="457.1" r="6.95"/>
<circle cx="402.0" cy="457.1" r="6.95"/>
<circle cx="402.1" cy="457.1" r="6.95"/>
<circle cx="402.8" cy="457.1" r="6.95"/>
<circle cx="403.3" cy="457.1" r="6.95"/>
<circle cx="403.5" cy="457.1" r="6.95"/>
<circle cx="403.9" cy="457.1" r="6.95"/>
<circle cx="404.5" cy="457.1" r="6.95"/>
<circle cx="405.1" cy="457.1" r="6.95"/>
<circle cx="405.5" cy="453.0" r="6.95"/>
<circle cx="405.6" cy="453.0" r="6.95"/>
<circle cx="406.2" cy="453.0" r="6.95"/>
<circle cx="406.2" cy="453.0" r="6.95"/>
<circle cx="406.9" cy="453.0" r="6.95"/>
<circle cx="407.0" cy="453.0" r="6.95"/>
<circle cx="407.7" cy="453.0" r="6.95"/>
<circle cx="407.7" cy="453.0" r="6.95"/>
<circle cx="408.1" cy="453.0" r="6.95"/>
<circle cx="408.7" cy="453.0" r="6.95"/>
<circle cx="409.2" cy="453.0" r="6.95"/>
<circle cx="409.2" cy="453.0" r="6.95"/>
<circle cx="409.8" cy="448.9" r="6.95"/>
<circle cx="410.3" cy="448.9" r="6.95"/>
<circle cx="410.7" cy="448.9" r="6.95"/>
<circle cx="410.9" cy="448.9" r="6.95"/>
<circle cx="411.4" cy="448.9" r="6.95"/>
<circle cx="411.7" cy="448.9" r="6.95"/>
<circle cx="412.5" cy="448.9" r="6.95"/>
<circle cx="412.7" cy="448.9" r="6.95"/>
<circle cx="412.8" cy="448.9" r="6.95"/>
<circle cx="413.0" cy="448.9" r="6.95"/>
<circle cx="413.9" cy="448.9" r="6.95"/>
<circle cx="414.5" cy="448.9" r="6.95"/>
<circle cx="414.7" cy="448.9" r="6.95"/>
<circle cx="415.3" cy="444.8" r="6.95"/>
<circle cx="415.4" cy="444.8" r="6.95"/>
<circle cx="415.7" cy="444.8" r="6.95"/>
<circle cx="416.5" cy="444.8" r="6.95"/>
<circle cx="416.8" cy="444.8" r="6.95"/>
<circle cx="417.3" cy="444.8" r="6.95"/>
<circle cx="417.3" cy="444.8" r="6.95"/>
<circle cx="418.1" cy="444.8" r="6.95"/>
<circle cx="418.3" cy="444.8" r="6.95"/>
<circle cx="419.0" cy="444.8" r="6.95"/>
<circle cx="419.1" cy="444.8" r="6.95"/>
<circle cx="419.5" cy="444.8" r="6.95"/>
<circle cx="419.9" cy="444.8" r="6.95"/>
<circle cx="420.7" cy="444.8" r="6.95"/>
<circle cx="420.9" cy="440.7" r="6.95"/>
<circle cx="421.1" cy="440.7" r="6.95"/>
<circle cx="421.4" cy="440.7" r="6.95"/>
<circle cx="421.9" cy="440.7" r="6.95"/>
<circle cx="422.8" cy="440.7" r="6.95"/>
<circle cx="422.5" cy="440.7" r="6.95"/>
<circle cx="423.1" cy="440.7" r="6.95"/>
<circle cx="423.8" cy="440.7" r="6.95"/>
<circle cx="424.3" cy="440.7" r="6.95"/>
<circle cx="424.4" cy="440.7" r="6.95"/>
<circle cx="425.0" cy="440.7" r="6.95"/>
<circle cx="425.4" cy="440.7" r="6.95"/>
<circle cx="425.9" cy="440.7" r="6.95"/>
<circle cx="426.1" cy="436.6" r="6.95"/>
<circle cx="426.8" cy="436.6" r="6.95"/>
<circle cx="426.9" cy="436.6" r="6.95"/>
<circle cx="427.6" cy="436.6" r="6.95"/>
<circle cx="427.4" cy="436.6" r="6.95"/>
<circle cx="428.2" cy="436.6" r="6.95"/>
<circle cx="428.2" cy="436.6" r="6.95"/>
<circle cx="428.6" cy="436.6" r="6.95"/>
<circle cx="429.4" cy="436.6" r="6.95"/>
<circle cx="429.5" cy="436.6" r="6.95"/>
<circle cx="430.2" cy="436.6" r="6.95"/>
<circle cx="430.3" cy="436.6" r="6.95"/>
<circle cx="431.2" cy="432.4" r="6.95"/>
<circle cx="431.3" cy="432.4" r="6.95"/>
<circle cx="431.5" cy="432.4" r="6.95"/>
<circle cx="432.1" cy="432.4" r="6.95"/>
<circle cx="432.6" cy="432.4" r="6.95"/>
<circle cx="432.7" cy="432.4" r="6.95"/>
<circle cx="433.4" cy="432.4" r="6.95"/>
<circle cx="434.1" cy="432.4" r="6.95"/>
<circle cx="434.2" cy="432.4" r="6.95"/>
<circle cx="434.5" cy="432.4" r="6.95"/>
<circle cx="434.8" cy="432.4" r="6.95"/>
<circle cx="435.4" cy="432.4" r="6.95"/>
<circle cx="435.3" cy="432.4" r="6.95"/>
<circle cx="435.5" cy="428.3" r="6.95"/>
<circle cx="436.3" cy="428.3" r="6.95"/>
<circle cx="436.6" cy="428.3" r="6.95"/>
<circle cx="437.6" cy="428.3" r="6.95"/>
<circle cx="437.7" cy="428.3" r="6.95"/>
<circle cx="437.8" cy="428.3" r="6.95"/>
<circle cx="438.2" cy="428.3" r="6.95"/>
<circle cx="438.9" cy="428.3" r="6.95"/>
<circle cx="439.0" cy="428.3" r="6.95"/>
<circle cx="439.4" cy="428.3" r="6.95"/>
<circle cx="439.9" cy="428.3" r="6.95"/>
<circle cx="440.3" cy="428.3" r="6.95"/>
<circle cx="440.7" cy="424.2" r="6.95"/>
<circle cx="441.0" cy="424.2" r="6.95"/>
<circle cx="441.6" cy="424.2" r="6.95"/>
<circle cx="442.1" cy="424.2" r="6.95"/>
<circle cx="441.8" cy="424.2" r="6.95"/>
<circle cx="443.0" cy="424.2" r="6.95"/>
<circle cx="442.9" cy="424.2" r="6.95"/>
<circle cx="443.5" cy="424.2" r="6.95"/>
<circle cx="443.5" cy="424.2" r="6.95"/>
<circle cx="444.1" cy="424.2" r="6.95"/>
<circle cx="444.4" cy="424.2" r="6.95"/>
<circle cx="444.7" cy="424.2" r="6.95"/>
<circle cx="445.3" cy="420.1" r="6.95"/>
<circle cx="445.6" cy="420.1" r="6.95"/>
<circle cx="445.6" cy="420.1" r="6.95"/>
<circle cx="446.2" cy="420.1" r="6.95"/>
<circle cx="446.7" cy="420.1" r="6.95"/>
<circle cx="447.1" cy="420.1" r="6.95"/>
<circle cx="447.3" cy="420.1" r="6.95"/>
<circle cx="447.7" cy="420.1" r="6.95"/>
<circle cx="448.2" cy="420.1" r="6.95"/>
<circle cx="448.4" cy="420.1" r="6.95"/>
<circle cx="448.7" cy="420.1" r="6.95"/>
<circle cx="449.8" cy="420.1" r="6.95"/>
<circle cx="449.8" cy="416.0" r="6.95"/>
<circle cx="450.3" cy="416.0" r="6.95"/>
<circle cx="450.5" cy="416.0" r="6.95"/>
<circle cx="451.3" cy="416.0" r="6.95"/>
<circle cx="451.8" cy="416.0" r="6.95"/>
<circle cx="451.8" cy="416.0" r="6.95"/>
<circle cx="452.4" cy="416.0" r="6.95"/>
<circle cx="452.6" cy="416.0" r="6.95"/>
<circle cx="453.5" cy="416.0" r="6.95"/>
<circle cx="453.7" cy="416.0" r="6.95"/>
<circle cx="453.8" cy="416.0" r="6.95"/>
<circle cx="454.6" cy="416.0" r="6.95"/>
<circle cx="454.8" cy="416.0" r="6.95"/>
<circle cx="455.3" cy="416.0" r="6.95"/>
<circle cx="455.7" cy="411.9" r="6.95"/>
<circle cx="455.9" cy="411.9" r="6.95"/>
<circle cx="456.3" cy="411.9" r="6.95"/>
<circle cx="457.0" cy="411.9" r="6.95"/>
<circle cx="457.2" cy="411.9" r="6.95"/>
<circle cx="457.5" cy="411.9" r="6.95"/>
<circle cx="458.5" cy="411.9" r="6.95"/>
<circle cx="458.5" cy="411.9" r="6.95"/>
<circle cx="458.8" cy="411.9" r="6.95"/>
<circle cx="459.2" cy="411.9" r="6.95"/>
<circle cx="459.9" cy="411.9" r="6.95"/>
<circle cx="460.4" cy="411.9" r="6.95"/>
<circle cx="460.6" cy="411.9" r="6.95"/>
<circle cx="461.2" cy="411.9" r="6.95"/>
<circle cx="461.2" cy="407.8" r="6.95"/>
<circle cx="461.8" cy="407.8" r="6.95"/>
<circle cx="462.2" cy="407.8" r="6.95"/>
<circle cx="462.7" cy="407.8" r="6.95"/>
<circle cx="463.2" cy="407.8" r="6.95"/>
<circle cx="463.1" cy="407.8" r="6.95"/>
<circle cx="464.6" cy="407.8" r="6.95"/>
<circle cx="464.2" cy="407.8" r="6.95"/>
<circle cx="464.9" cy="407.8" r="6.95"/>
<circle cx="465.4" cy="407.8" r="6.95"/>
<circle cx="465.8" cy="407.8" r="6.95"/>
<circle cx="466.1" cy="407.8" r="6.95"/>
<circle cx="465.9" cy="407.8" r="6.95"/>
<circle cx="466.7" cy="403.7" r="6.95"/>
<circle cx="467.5" cy="403.7" r="6.95"/>
<circle cx="467.5" cy="403.7" r="6.95"/>
<circle cx="467.9" cy="403.7" r="6.95"/>
<circle cx="468.0" cy="403.7" r="6.95"/>
<circle cx="469.2" cy="403.7" r="6.95"/>
<circle cx="469.5" cy="403.7" r="6.95"/>
<circle cx="469.6" cy="403.7" r="6.95"/>
<circle cx="470.1" cy="403.7" r="6.95"/>
<circle cx="470.6" cy="403.7" r="6.95"/>
<circle cx="470.8" cy="403.7" r="6.95"/>
<circle cx="471.3" cy="403.7" r="6.95"/>
<circle cx="471.8" cy="403.7" r="6.95"/>
<circle cx="472.3" cy="403.7" r="6.95"/>
<circle cx="472.9" cy="399.5" r="6.95"/>
<circle cx="473.0" cy="399.5" r="6.95"/>
<circle cx="473.3" cy="399.5" r="6.95"/>
<circle cx="474.0" cy="399.5" r="6.95"/>
<circle cx="474.1" cy="399.5" r="6.95"/>
<circle cx="474.4" cy="399.5" r="6.95"/>
<circle cx="475.3" cy="399.5" r="6.95"/>
<circle cx="475.4" cy="399.5" r="6.95"/>
<circle cx="475.9" cy="399.5" r="6.95"/>
<circle cx="476.4" cy="399.5" r="6.95"/>
<circle cx="476.5" cy="399.5" r="6.95"/>
<circle cx="477.3" cy="399.5" r="6.95"/>
<circle cx="477.7" cy="399.5" r="6.95"/>
<circle cx="478.0" cy="395.4" r="6.95"/>
<circle cx="478.5" cy="395.4" r="6.95"/>
<circle cx="478.7" cy="395.4" r="6.95"/>
<circle cx="478.8" cy="395.4" r="6.95"/>
<circle cx="479.6" cy="395.4" r="6.95"/>
<circle cx="479.9" cy="395.4" r="6.95"/>
<circle cx="480.7" cy="395.4" r="6.95"/>
<circle cx="481.0" cy="395.4" r="6.95"/>
<circle cx="481.2" cy="395.4" r="6.95"/>
<circle cx="481.8" cy="395.4" r="6.95"/>
<circle cx="482.5" cy="395.4" r="6.95"/>
<circle cx="482.8" cy="395.4" r="6.95"/>
<circle cx="483.1" cy="395.4" r="6.95"/>
<circle cx="483.6" cy="395.4" r="6.95"/>
<circle cx="483.8" cy="391.3" r="6.95"/>
<circle cx="484.3" cy="391.3" r="6.95"/>
<circle cx="484.8" cy="391.3" r="6.95"/>
<circle cx="485.1" cy="391.3" r="6.95"/>
<circle cx="485.6" cy="391.3" r="6.95"/>
<circle cx="485.8" cy="391.3" r="6.95"/>
<circle cx="486.1" cy="391.3" r="6.95"/>
<circle cx="486.5" cy="391.3" r="6.95"/>
<circle cx="487.2" cy="391.3" r="6.95"/>
<circle cx="487.9" cy="391.3" r="6.95"/>
<circle cx="488.3" cy="391.3" r="6.95"/>
<circle cx="488.3" cy="391.3" r="6.95"/>
<circle cx="488.6" cy="391.3" r="6.95"/>
<circle cx="489.6" cy="391.3" r="6.95"/>
<circle cx="489.9" cy="391.3" r="6.95"/>
<circle cx="490.1" cy="387.2" r="6.95"/>
<circle cx="491.0" cy="387.2" r="6.95"/>
<circle cx="491.3" cy="387.2" r="6.95"/>
<circle cx="492.0" cy="387.2" r="6.95"/>
<circle cx="492.3" cy="387.2" r="6.95"/>
<circle cx="492.8" cy="387.2" r="6.95"/>
<circle cx="493.2" cy="387.2" r="6.95"/>
<circle cx="493.4" cy="387.2" r="6.95"/>
<circle cx="494.0" cy="387.2" r="6.95"/>
<circle cx="494.4" cy="387.2" r="6.95"/>
<circle cx="495.2" cy="387.2" r="6.95"/>
<circle cx="495.2" cy="387.2" r="6.95"/>
<circle cx="495.6" cy="387.2" r="6.95"/>
<circle cx="496.5" cy="387.2" r="6.95"/>
<circle cx="497.1" cy="387.2" r="6.95"/>
<circle cx="497.6" cy="387.2" r="6.95"/>
<circle cx="498.0" cy="387.2" r="6.95"/>
<circle cx="498.0" cy="387.2" r="6.95"/>
<circle cx="498.5" cy="387.2" r="6.95"/>
<circle cx="498.9" cy="383.1" r="6.95"/>
<circle cx="499.4" cy="383.1" r="6.95"/>
<circle cx="499.4" cy="383.1" r="6.95"/>
<circle cx="500.2" cy="383.1" r="6.95"/>
<circle cx="500.7" cy="383.1" r="6.95"/>
<circle cx="500.8" cy="383.1" r="6.95"/>
<circle cx="501.4" cy="383.1" r="6.95"/>
<circle cx="502.0" cy="383.1" r="6.95"/>
<circle cx="502.2" cy="383.1" r="6.95"/>
<circle cx="502.8" cy="383.1" r="6.95"/>
<circle cx="503.1" cy="383.1" r="6.95"/>
<circle cx="503.4" cy="383.1" r="6.95"/>
<circle cx="503.8" cy="379.0" r="6.95"/>
<circle cx="504.0" cy="379.0" r="6.95"/>
<circle cx="504.7" cy="379.0" r="6.95"/>
<circle cx="504.8" cy="379.0" r="6.95"/>
<circle cx="505.2" cy="379.0" r="6.95"/>
<circle cx="505.8" cy="379.0" r="6.95"/>
<circle cx="505.9" cy="379.0" r="6.95"/>
<circle cx="506.5" cy="379.0" r="6.95"/>
<circle cx="507.1" cy="379.0" r="6.95"/>
<circle cx="507.3" cy="379.0" r="6.95"/>
<circle cx="507.6" cy="379.0" r="6.95"/>
<circle cx="508.2" cy="379.0" r="6.95"/>
<circle cx="508.7" cy="379.0" r="6.95"/>
<circle cx="508.6" cy="374.9" r="6.95"/>
<circle cx="509.1" cy="374.9" r="6.95"/>
<circle cx="510.1" cy="374.9" r="6.95"/>
<circle cx="510.4" cy="374.9" r="6.95"/>
<circle cx="510.3" cy="374.9" r="6.95"/>
<circle cx="510.9" cy="374.9" r="6.95"/>
<circle cx="511.6" cy="374.9" r="6.95"/>
<circle cx="511.9" cy="374.9" r="6.95"/>
<circle cx="512.6" cy="374.9" r="6.95"/>
<circle cx="512.9" cy="374.9" r="6.95"/>
<circle cx="513.5" cy="374.9" r="6.95"/>
<circle cx="513.6" cy="374.9" r="6.95"/>
<circle cx="514.4" cy="374.9" r="6.95"/>
<circle cx="515.1" cy="374.9" r="6.95"/>
<circle cx="515.0" cy="374.9" r="6.95"/>
<circle cx="515.8" cy="374.9" r="6.95"/>
<circle cx="516.2" cy="370.8" r="6.95"/>
<circle cx="516.6" cy="370.8" r="6.95"/>
<circle cx="516.9" cy="370.8" r="6.95"/>
<circle cx="517.1" cy="370.8" r="6.95"/>
<circle cx="517.6" cy="370.8" r="6.95"/>
<circle cx="518.4" cy="370.8" r="6.95"/>
<circle cx="519.0" cy="370.8" r="6.95"/>
<circle cx="519.5" cy="370.8" r="6.95"/>
<circle cx="519.9" cy="370.8" r="6.95"/>
<circle cx="520.3" cy="370.8" r="6.95"/>
<circle cx="520.6" cy="370.8" r="6.95"/>
<circle cx="520.9" cy="370.8" r="6.95"/>
<circle cx="521.6" cy="370.8" r="6.95"/>
<circle cx="522.1" cy="370.8" r="6.95"/>
<circle cx="522.5" cy="370.8" r="6.95"/>
<circle cx="522.7" cy="370.8" r="6.95"/>
<circle cx="523.3" cy="370.8" r="6.95"/>
<circle cx="523.6" cy="370.8" r="6.95"/>
<circle cx="524.4" cy="370.8" r="6.95"/>
<circle cx="524.6" cy="366.6" r="6.95"/>
<circle cx="525.3" cy="366.6" r="6.95"/>
<circle cx="525.8" cy="366.6" r="6.95"/>
<circle cx="526.3" cy="366.6" r="6.95"/>
<circle cx="527.0" cy="366.6" r="6.95"/>
<circle cx="526.9" cy="366.6" r="6.95"/>
<circle cx="527.1" cy="366.6" r="6.95"/>
<circle cx="528.2" cy="366.6" r="6.95"/>
<circle cx="528.7" cy="366.6" r="6.95"/>
<circle cx="529.1" cy="366.6" r="6.95"/>
<circle cx="529.3" cy="366.6" r="6.95"/>
<circle cx="529.8" cy="366.6" r="6.95"/>
<circle cx="530.2" cy="366.6" r="6.95"/>
<circle cx="530.3" cy="366.6" r="6.95"/>
<circle cx="530.9" cy="366.6" r="6.95"/>
<circle cx="531.5" cy="362.5" r="6.95"/>
<circle cx="531.7" cy="362.5" r="6.95"/>
<circle cx="532.6" cy="362.5" r="6.95"/>
<circle cx="532.4" cy="362.5" r="6.95"/>
<circle cx="533.1" cy="362.5" r="6.95"/>
<circle cx="533.8" cy="362.5" r="6.95"/>
<circle cx="533.9" cy="362.5" r="6.95"/>
<circle cx="534.2" cy="362.5" r="6.95"/>
<circle cx="534.6" cy="362.5" r="6.95"/>
<circle cx="535.1" cy="362.5" r="6.95"/>
<circle cx="536.0" cy="362.5" r="6.95"/>
<circle cx="536.3" cy="362.5" r="6.95"/>
<circle cx="536.7" cy="362.5" r="6.95"/>
<circle cx="536.9" cy="362.5" r="6.95"/>
<circle cx="537.6" cy="362.5" r="6.95"/>
<circle cx="537.9" cy="358.4" r="6.95"/>
<circle cx="538.2" cy="358.4" r="6.95"/>
<circle cx="538.7" cy="358.4" r="6.95"/>
<circle cx="539.3" cy="358.4" r="6.95"/>
<circle cx="539.9" cy="358.4" r="6.95"/>
<circle cx="540.1" cy="358.4" r="6.95"/>
<circle cx="540.6" cy="358.4" r="6.95"/>
<circle cx="541.4" cy="358.4" r="6.95"/>
<circle cx="541.3" cy="358.4" r="6.95"/>
<circle cx="541.6" cy="358.4" r="6.95"/>
<circle cx="542.5" cy="358.4" r="6.95"/>
<circle cx="542.8" cy="358.4" r="6.95"/>
<circle cx="543.2" cy="358.4" r="6.95"/>
<circle cx="543.7" cy="358.4" r="6.95"/>
<circle cx="544.0" cy="358.4" r="6.95"/>
<circle cx="544.6" cy="358.4" r="6.95"/>
<circle cx="544.9" cy="354.3" r="6.95"/>
<circle cx="545.5" cy="354.3" r="6.95"/>
<circle cx="545.6" cy="354.3" r="6.95"/>
<circle cx="546.1" cy="354.3" r="6.95"/>
<circle cx="546.8" cy="354.3" r="6.95"/>
<circle cx="547.1" cy="354.3" r="6.95"/>
<circle cx="547.8" cy="354.3" r="6.95"/>
<circle cx="548.1" cy="354.3" r="6.95"/>
<circle cx="548.4" cy="354.3" r="6.95"/>
<circle cx="549.0" cy="354.3" r="6.95"/>
<circle cx="549.3" cy="354.3" r="6.95"/>
<circle cx="549.6" cy="354.3" r="6.95"/>
<circle cx="550.1" cy="354.3" r="6.95"/>
<circle cx="550.6" cy="354.3" r="6.95"/>
<circle cx="551.2" cy="354.3" r="6.95"/>
<circle cx="551.8" cy="354.3" r="6.95"/>
<circle cx="552.4" cy="354.3" r="6.95"/>
<circle cx="552.7" cy="350.2" r="6.95"/>
<circle cx="553.4" cy="350.2" r="6.95"/>
<circle cx="553.8" cy="350.2" r="6.95"/>
<circle cx="554.0" cy="350.2" r="6.95"/>
<circle cx="554.8" cy="350.2" r="6.95"/>
<circle cx="555.1" cy="350.2" r="6.95"/>
<circle cx="555.3" cy="350.2" r="6.95"/>
<circle cx="555.9" cy="350.2" r="6.95"/>
<circle cx="556.5" cy="350.2" r="6.95"/>
<circle cx="556.7" cy="350.2" r="6.95"/>
<circle cx="557.4" cy="350.2" r="6.95"/>
<circle cx="557.7" cy="350.2" r="6.95"/>
<circle cx="558.2" cy="350.2" r="6.95"/>
<circle cx="558.4" cy="350.2" r="6.95"/>
<circle cx="559.1" cy="350.2" r="6.95"/>
<circle cx="559.3" cy="350.2" r="6.95"/>
<circle cx="560.0" cy="350.2" r="6.95"/>
<circle cx="560.0" cy="346.1" r="6.95"/>
<circle cx="560.8" cy="346.1" r="6.95"/>
<circle cx="561.5" cy="346.1" r="6.95"/>
<circle cx="561.8" cy="346.1" r="6.95"/>
<circle cx="562.1" cy="346.1" r="6.95"/>
<circle cx="562.7" cy="346.1" r="6.95"/>
<circle cx="562.8" cy="346.1" r="6.95"/>
<circle cx="563.3" cy="346.1" r="6.95"/>
<circle cx="563.8" cy="346.1" r="6.95"/>
<circle cx="564.3" cy="346.1" r="6.95"/>
<circle cx="565.0" cy="346.1" r="6.95"/>
<circle cx="565.1" cy="346.1" r="6.95"/>
<circle cx="565.9" cy="346.1" r="6.95"/>
<circle cx="565.8" cy="346.1" r="6.95"/>
<circle cx="566.4" cy="346.1" r="6.95"/>
<circle cx="567.0" cy="346.1" r="6.95"/>
<circle cx="567.7" cy="342.0" r="6.95"/>
<circle cx="567.8" cy="342.0" r="6.95"/>
<circle cx="567.9" cy="342.0" r="6.95"/>
<circle cx="568.8" cy="342.0" r="6.95"/>
<circle cx="569.2" cy="342.0" r="6.95"/>
<circle cx="569.4" cy="342.0" r="6.95"/>
<circle cx="569.8" cy="342.0" r="6.95"/>
<circle cx="570.2" cy="342.0" r="6.95"/>
<circle cx="570.8" cy="342.0" r="6.95"/>
<circle cx="571.3" cy="342.0" r="6.95"/>
<circle cx="571.3" cy="342.0" r="6.95"/>
<circle cx="572.4" cy="342.0" r="6.95"/>
<circle cx="572.4" cy="342.0" r="6.95"/>
<circle cx="572.7" cy="342.0" r="6.95"/>
<circle cx="573.3" cy="337.8" r="6.95"/>
<circle cx="573.6" cy="337.8" r="6.95"/>
<circle cx="574.5" cy="337.8" r="6.95"/>
<circle cx="574.6" cy="337.8" r="6.95"/>
<circle cx="574.7" cy="337.8" r="6.95"/>
<circle cx="575.1" cy="337.8" r="6.95"/>
<circle cx="575.5" cy="337.8" r="6.95"/>
<circle cx="575.9" cy="337.8" r="6.95"/>
<circle cx="576.5" cy="337.8" r="6.95"/>
<circle cx="576.6" cy="337.8" r="6.95"/>
<circle cx="577.5" cy="337.8" r="6.95"/>
<circle cx="577.6" cy="337.8" r="6.95"/>
<circle cx="578.0" cy="337.8" r="6.95"/>
<circle cx="578.6" cy="333.7" r="6.95"/>
<circle cx="578.4" cy="333.7" r="6.95"/>
<circle cx="579.0" cy="333.7" r="6.95"/>
<circle cx="579.7" cy="333.7" r="6.95"/>
<circle cx="580.0" cy="333.7" r="6.95"/>
<circle cx="580.5" cy="333.7" r="6.95"/>
<circle cx="580.9" cy="333.7" r="6.95"/>
<circle cx="581.1" cy="333.7" r="6.95"/>
<circle cx="581.7" cy="333.7" r="6.95"/>
<circle cx="581.8" cy="333.7" r="6.95"/>
<circle cx="582.1" cy="333.7" r="6.95"/>
<circle cx="583.2" cy="333.7" r="6.95"/>
<circle cx="583.2" cy="333.7" r="6.95"/>
<circle cx="583.6" cy="329.6" r="6.95"/>
<circle cx="584.4" cy="329.6" r="6.95"/>
<circle cx="584.7" cy="329.6" r="6.95"/>
<circle cx="584.9" cy="329.6" r="6.95"/>
<circle cx="585.3" cy="329.6" r="6.95"/>
<circle cx="585.8" cy="329.6" r="6.95"/>
<circle cx="586.0" cy="329.6" r="6.95"/>
<circle cx="586.7" cy="329.6" r="6.95"/>
<circle cx="587.0" cy="329.6" r="6.95"/>
<circle cx="587.4" cy="329.6" r="6.95"/>
<circle cx="588.0" cy="329.6" r="6.95"/>
<circle cx="588.4" cy="329.6" r="6.95"/>
<circle cx="589.1" cy="329.6" r="6.95"/>
<circle cx="589.4" cy="325.5" r="6.95"/>
<circle cx="589.2" cy="325.5" r="6.95"/>
<circle cx="590.1" cy="325.5" r="6.95"/>
<circle cx="590.2" cy="325.5" r="6.95"/>
<circle cx="590.5" cy="325.5" r="6.95"/>
<circle cx="591.3" cy="325.5" r="6.95"/>
<circle cx="591.5" cy="325.5" r="6.95"/>
<circle cx="592.0" cy="325.5" r="6.95"/>
<circle cx="592.7" cy="325.5" r="6.95"/>
<circle cx="592.8" cy="325.5" r="6.95"/>
<circle cx="593.2" cy="325.5" r="6.95"/>
<circle cx="593.8" cy="325.5" r="6.95"/>
<circle cx="594.4" cy="325.5" r="6.95"/>
<circle cx="594.7" cy="325.5" r="6.95"/>
<circle cx="594.7" cy="325.5" r="6.95"/>
<circle cx="595.3" cy="321.4" r="6.95"/>
<circle cx="595.8" cy="321.4" r="6.95"/>
<circle cx="596.6" cy="321.4" r="6.95"/>
<circle cx="596.9" cy="321.4" r="6.95"/>
<circle cx="597.3" cy="321.4" r="6.95"/>
<circle cx="597.7" cy="321.4" r="6.95"/>
<circle cx="597.8" cy="321.4" r="6.95"/>
<circle cx="598.4" cy="321.4" r="6.95"/>
<circle cx="598.8" cy="321.4" r="6.95"/>
<circle cx="598.9" cy="321.4" r="6.95"/>
<circle cx="599.5" cy="321.4" r="6.95"/>
<circle cx="600.0" cy="321.4" r="6.95"/>
<circle cx="600.1" cy="321.4" r="6.95"/>
<circle cx="600.8" cy="317.3" r="6.95"/>
<circle cx="601.2" cy="317.3" r="6.95"/>
<circle cx="601.7" cy="317.3" r="6.95"/>
<circle cx="601.7" cy="317.3" r="6.95"/>
<circle cx="602.3" cy="317.3" r="6.95"/>
<circle cx="603.0" cy="317.3" r="6.95"/>
<circle cx="603.2" cy="317.3" r="6.95"/>
<circle cx="603.3" cy="317.3" r="6.95"/>
<circle cx="603.9" cy="317.3" r="6.95"/>
<circle cx="604.6" cy="317.3" r="6.95"/>
<circle cx="604.7" cy="317.3" r="6.95"/>
<circle cx="605.1" cy="317.3" r="6.95"/>
<circle cx="606.0" cy="313.2" r="6.95"/>
<circle cx="605.9" cy="313.2" r="6.95"/>
<circle cx="606.3" cy="313.2" r="6.95"/>
<circle cx="606.5" cy="313.2" r="6.95"/>
<circle cx="606.9" cy="313.2" r="6.95"/>
<circle cx="607.8" cy="313.2" r="6.95"/>
<circle cx="607.9" cy="313.2" r="6.95"/>
<circle cx="608.1" cy="313.2" r="6.95"/>
<circle cx="608.5" cy="313.2" r="6.95"/>
<circle cx="609.2" cy="313.2" r="6.95"/>
<circle cx="609.7" cy="313.2" r="6.95"/>
<circle cx="609.8" cy="313.2" r="6.95"/>
<circle cx="610.5" cy="313.2" r="6.95"/>
<circle cx="610.7" cy="313.2" r="6.95"/>
<circle cx="611.3" cy="309.1" r="6.95"/>
<circle cx="611.7" cy="309.1" r="6.95"/>
<circle cx="612.1" cy="309.1" r="6.95"/>
<circle cx="612.4" cy="309.1" r="6.95"/>
<circle cx="612.8" cy="309.1" r="6.95"/>
<circle cx="613.4" cy="309.1" r="6.95"/>
<circle cx="613.4" cy="309.1" r="6.95"/>
<circle cx="614.1" cy="309.1" r="6.95"/>
<circle cx="614.6" cy="309.1" r="6.95"/>
<circle cx="615.1" cy="309.1" r="6.95"/>
<circle cx="615.3" cy="309.1" r="6.95"/>
<circle cx="615.7" cy="309.1" r="6.95"/>
<circle cx="616.1" cy="309.1" r="6.95"/>
<circle cx="616.4" cy="304.9" r="6.95"/>
<circle cx="616.9" cy="304.9" r="6.95"/>
<circle cx="617.4" cy="304.9" r="6.95"/>
<circle cx="617.8" cy="304.9" r="6.95"/>
<circle cx="617.9" cy="304.9" r="6.95"/>
<circle cx="618.5" cy="304.9" r="6.95"/>
<circle cx="618.5" cy="304.9" r="6.95"/>
<circle cx="619.5" cy="304.9" r="6.95"/>
<circle cx="619.6" cy="304.9" r="6.95"/>
<circle cx="620.2" cy="304.9" r="6.95"/>
<circle cx="620.3" cy="304.9" r="6.95"/>
<circle cx="620.9" cy="304.9" r="6.95"/>
<circle cx="621.4" cy="304.9" r="6.95"/>
<circle cx="621.9" cy="300.8" r="6.95"/>
<circle cx="621.9" cy="300.8" r="6.95"/>
<circle cx="622.7" cy="300.8" r="6.95"/>
<circle cx="622.9" cy="300.8" r="6.95"/>
<circle cx="623.2" cy="300.8" r="6.95"/>
<circle cx="623.8" cy="300.8" r="6.95"/>
<circle cx="624.1" cy="300.8" r="6.95"/>
<circle cx="624.5" cy="300.8" r="6.95"/>
<circle cx="624.8" cy="300.8" r="6.95"/>
<circle cx="625.4" cy="300.8" r="6.95"/>
<circle cx="625.8" cy="300.8" r="6.95"/>
<circle cx="626.1" cy="300.8" r="6.95"/>
<circle cx="626.4" cy="300.8" r="6.95"/>
<circle cx="626.9" cy="296.7" r="6.95"/>
<circle cx="627.4" cy="296.7" r="6.95"/>
<circle cx="628.0" cy="296.7" r="6.95"/>
<circle cx="628.1" cy="296.7" r="6.95"/>
<circle cx="628.7" cy="296.7" r="6.95"/>
<circle cx="628.8" cy="296.7" r="6.95"/>
<circle cx="629.0" cy="296.7" r="6.95"/>
<circle cx="629.7" cy="296.7" r="6.95"/>
<circle cx="629.7" cy="296.7" r="6.95"/>
<circle cx="630.3" cy="296.7" r="6.95"/>
<circle cx="630.9" cy="296.7" r="6.95"/>
<circle cx="630.9" cy="292.6" r="6.95"/>
<circle cx="631.3" cy="292.6" r="6.95"/>
<circle cx="632.2" cy="292.6" r="6.95"/>
<circle cx="632.2" cy="292.6" r="6.95"/>
<circle cx="632.5" cy="292.6" r="6.95"/>
<circle cx="633.0" cy="292.6" r="6.95"/>
<circle cx="633.2" cy="292.6" r="6.95"/>
<circle cx="633.5" cy="292.6" r="6.95"/>
<circle cx="634.0" cy="292.6" r="6.95"/>
<circle cx="633.8" cy="292.6" r="6.95"/>
<circle cx="634.9" cy="292.6" r="6.95"/>
<circle cx="634.8" cy="292.6" r="6.95"/>
<circle cx="635.2" cy="288.5" r="6.95"/>
<circle cx="635.8" cy="288.5" r="6.95"/>
<circle cx="636.1" cy="288.5" r="6.95"/>
<circle cx="636.2" cy="288.5" r="6.95"/>
<circle cx="636.9" cy="288.5" r="6.95"/>
<circle cx="637.0" cy="288.5" r="6.95"/>
<circle cx="637.4" cy="288.5" r="6.95"/>
<circle cx="637.6" cy="288.5" r="6.95"/>
<circle cx="638.1" cy="288.5" r="6.95"/>
<circle cx="638.8" cy="288.5" r="6.95"/>
<circle cx="639.1" cy="288.5" r="6.95"/>
<circle cx="639.6" cy="288.5" r="6.95"/>
<circle cx="640.1" cy="284.4" r="6.95"/>
<circle cx="640.3" cy="284.4" r="6.95"/>
<circle cx="640.6" cy="284.4" r="6.95"/>
<circle cx="641.1" cy="284.4" r="6.95"/>
<circle cx="641.9" cy="284.4" r="6.95"/>
<circle cx="642.0" cy="284.4" r="6.95"/>
<circle cx="642.4" cy="284.4" r="6.95"/>
<circle cx="642.8" cy="284.4" r="6.95"/>
<circle cx="643.2" cy="284.4" r="6.95"/>
<circle cx="643.7" cy="284.4" r="6.95"/>
<circle cx="644.0" cy="284.4" r="6.95"/>
<circle cx="644.4" cy="284.4" r="6.95"/>
<circle cx="644.6" cy="284.4" r="6.95"/>
<circle cx="645.0" cy="280.3" r="6.95"/>
<circle cx="645.7" cy="280.3" r="6.95"/>
<circle cx="646.2" cy="280.3" r="6.95"/>
<circle cx="646.6" cy="280.3" r="6.95"/>
<circle cx="646.8" cy="280.3" r="6.95"/>
<circle cx="647.1" cy="280.3" r="6.95"/>
<circle cx="647.8" cy="280.3" r="6.95"/>
<circle cx="648.2" cy="280.3" r="6.95"/>
<circle cx="648.1" cy="280.3" r="6.95"/>
<circle cx="649.0" cy="280.3" r="6.95"/>
<circle cx="649.3" cy="280.3" r="6.95"/>
<circle cx="649.9" cy="280.3" r="6.95"/>
<circle cx="649.8" cy="280.3" r="6.95"/>
<circle cx="650.1" cy="276.1" r="6.95"/>
<circle cx="650.9" cy="276.1" r="6.95"/>
<circle cx="650.8" cy="276.1" r="6.95"/>
<circle cx="651.4" cy="276.1" r="6.95"/>
<circle cx="651.7" cy="276.1" r="6.95"/>
<circle cx="652.1" cy="276.1" r="6.95"/>
<circle cx="652.3" cy="276.1" r="6.95"/>
<circle cx="653.1" cy="276.1" r="6.95"/>
<circle cx="653.7" cy="276.1" r="6.95"/>
<circle cx="654.0" cy="276.1" r="6.95"/>
<circle cx="654.4" cy="276.1" r="6.95"/>
<circle cx="654.6" cy="276.1" r="6.95"/>
<circle cx="655.4" cy="272.0" r="6.95"/>
<circle cx="655.6" cy="272.0" r="6.95"/>
<circle cx="656.1" cy="272.0" r="6.95"/>
<circle cx="655.9" cy="272.0" r="6.95"/>
<circle cx="656.7" cy="272.0" r="6.95"/>
<circle cx="656.8" cy="272.0" r="6.95"/>
<circle cx="657.5" cy="272.0" r="6.95"/>
<circle cx="657.9" cy="272.0" r="6.95"/>
<circle cx="658.0" cy="272.0" r="6.95"/>
<circle cx="658.7" cy="272.0" r="6.95"/>
<circle cx="659.3" cy="272.0" r="6.95"/>
<circle cx="659.6" cy="272.0" r="6.95"/>
<circle cx="660.0" cy="272.0" r="6.95"/>
<circle cx="660.1" cy="267.9" r="6.95"/>
<circle cx="660.6" cy="267.9" r="6.95"/>
<circle cx="660.9" cy="267.9" r="6.95"/>
<circle cx="661.6" cy="267.9" r="6.95"/>
<circle cx="662.2" cy="267.9" r="6.95"/>
<circle cx="662.4" cy="267.9" r="6.95"/>
<circle cx="662.8" cy="267.9" r="6.95"/>
<circle cx="663.0" cy="267.9" r="6.95"/>
<circle cx="663.7" cy="267.9" r="6.95"/>
<circle cx="663.9" cy="267.9" r="6.95"/>
<circle cx="664.0" cy="267.9" r="6.95"/>
<circle cx="664.5" cy="267.9" r="6.95"/>
<circle cx="665.1" cy="267.9" r="6.95"/>
<circle cx="665.4" cy="263.8" r="6.95"/>
<circle cx="666.4" cy="263.8" r="6.95"/>
<circle cx="666.5" cy="263.8" r="6.95"/>
<circle cx="666.6" cy="263.8" r="6.95"/>
<circle cx="667.1" cy="263.8" r="6.95"/>
<circle cx="667.9" cy="263.8" r="6.95"/>
<circle cx="667.8" cy="263.8" r="6.95"/>
<circle cx="668.5" cy="263.8" r="6.95"/>
<circle cx="668.8" cy="263.8" r="6.95"/>
<circle cx="669.4" cy="263.8" r="6.95"/>
<circle cx="669.6" cy="263.8" r="6.95"/>
<circle cx="669.8" cy="263.8" r="6.95"/>
<circle cx="670.4" cy="263.8" r="6.95"/>
<circle cx="670.7" cy="259.7" r="6.95"/>
<circle cx="671.2" cy="259.7" r="6.95"/>
<circle cx="671.4" cy="259.7" r="6.95"/>
<circle cx="672.2" cy="259.7" r="6.95"/>
<circle cx="672.2" cy="259.7" r="6.95"/>
<circle cx="672.6" cy="259.7" r="6.95"/>
<circle cx="672.8" cy="259.7" r="6.95"/>
<circle cx="673.3" cy="259.7" r="6.95"/>
<circle cx="673.7" cy="259.7" r="6.95"/>
<circle cx="674.1" cy="259.7" r="6.95"/>
<circle cx="674.6" cy="259.7" r="6.95"/>
<circle cx="674.8" cy="255.6" r="6.95"/>
<circle cx="675.1" cy="255.6" r="6.95"/>
<circle cx="675.8" cy="255.6" r="6.95"/>
<circle cx="675.9" cy="255.6" r="6.95"/>
<circle cx="676.3" cy="255.6" r="6.95"/>
<circle cx="677.0" cy="255.6" r="6.95"/>
<circle cx="677.3" cy="255.6" r="6.95"/>
<circle cx="677.0" cy="255.6" r="6.95"/>
<circle cx="677.8" cy="255.6" r="6.95"/>
<circle cx="678.4" cy="255.6" r="6.95"/>
<circle cx="678.8" cy="255.6" r="6.95"/>
<circle cx="678.9" cy="255.6" r="6.95"/>
<circle cx="679.8" cy="251.5" r="6.95"/>
<circle cx="679.7" cy="251.5" r="6.95"/>
<circle cx="680.1" cy="251.5" r="6.95"/>
<circle cx="680.6" cy="251.5" r="6.95"/>
<circle cx="681.0" cy="251.5" r="6.95"/>
<circle cx="681.5" cy="251.5" r="6.95"/>
<circle cx="681.9" cy="251.5" r="6.95"/>
<circle cx="682.1" cy="251.5" r="6.95"/>
<circle cx="682.8" cy="251.5" r="6.95"/>
<circle cx="682.7" cy="251.5" r="6.95"/>
<circle cx="683.2" cy="251.5" r="6.95"/>
<circle cx="683.9" cy="251.5" r="6.95"/>
<circle cx="684.0" cy="247.4" r="6.95"/>
<circle cx="684.6" cy="247.4" r="6.95"/>
<circle cx="684.7" cy="247.4" r="6.95"/>
<circle cx="685.1" cy="247.4" r="6.95"/>
<circle cx="685.5" cy="247.4" r="6.95"/>
<circle cx="686.0" cy="247.4" r="6.95"/>
<circle cx="686.3" cy="247.4" r="6.95"/>
<circle cx="686.7" cy="247.4" r="6.95"/>
<circle cx="687.3" cy="247.4" r="6.95"/>
<circle cx="687.8" cy="247.4" r="6.95"/>
<circle cx="687.9" cy="247.4" r="6.95"/>
<circle cx="688.4" cy="247.4" r="6.95"/>
<circle cx="688.9" cy="247.4" r="6.95"/>
<circle cx="688.9" cy="243.2" r="6.95"/>
<circle cx="689.2" cy="243.2" r="6.95"/>
<circle cx="690.3" cy="243.2" r="6.95"/>
<circle cx="690.6" cy="243.2" r="6.95"/>
<circle cx="690.7" cy="243.2" r="6.95"/>
<circle cx="691.2" cy="243.2" r="6.95"/>
<circle cx="691.3" cy="243.2" r="6.95"/>
<circle cx="691.6" cy="243.2" r="6.95"/>
<circle cx="692.4" cy="243.2" r="6.95"/>
<circle cx="692.4" cy="243.2" r="6.95"/>
<circle cx="693.3" cy="243.2" r="6.95"/>
<circle cx="693.4" cy="243.2" r="6.95"/>
<circle cx="694.0" cy="243.2" r="6.95"/>
<circle cx="694.7" cy="239.1" r="6.95"/>
<circle cx="695.1" cy="239.1" r="6.95"/>
<circle cx="695.1" cy="239.1" r="6.95"/>
<circle cx="695.7" cy="239.1" r="6.95"/>
<circle cx="695.7" cy="239.1" r="6.95"/>
<circle cx="696.2" cy="239.1" r="6.95"/>
<circle cx="696.8" cy="239.1" r="6.95"/>
<circle cx="697.4" cy="239.1" r="6.95"/>
<circle cx="697.4" cy="239.1" r="6.95"/>
<circle cx="698.0" cy="239.1" r="6.95"/>
<circle cx="698.3" cy="239.1" r="6.95"/>
<circle cx="698.4" cy="239.1" r="6.95"/>
<circle cx="699.1" cy="239.1" r="6.95"/>
<circle cx="699.8" cy="235.0" r="6.95"/>
<circle cx="699.9" cy="235.0" r="6.95"/>
<circle cx="700.4" cy="235.0" r="6.95"/>
<circle cx="700.9" cy="235.0" r="6.95"/>
<circle cx="701.1" cy="235.0" r="6.95"/>
<circle cx="701.9" cy="235.0" r="6.95"/>
<circle cx="702.3" cy="235.0" r="6.95"/>
<circle cx="702.7" cy="235.0" r="6.95"/>
<circle cx="703.1" cy="235.0" r="6.95"/>
<circle cx="703.2" cy="235.0" r="6.95"/>
<circle cx="703.6" cy="235.0" r="6.95"/>
<circle cx="703.9" cy="235.0" r="6.95"/>
<circle cx="704.4" cy="235.0" r="6.95"/>
<circle cx="704.8" cy="230.9" r="6.95"/>
<circle cx="705.5" cy="230.9" r="6.95"/>
<circle cx="706.1" cy="230.9" r="6.95"/>
<circle cx="706.1" cy="230.9" r="6.95"/>
<circle cx="706.8" cy="230.9" r="6.95"/>
<circle cx="706.8" cy="230.9" r="6.95"/>
<circle cx="707.4" cy="230.9" r="6.95"/>
<circle cx="707.7" cy="230.9" r="6.95"/>
<circle cx="708.0" cy="230.9" r="6.95"/>
<circle cx="708.7" cy="230.9" r="6.95"/>
<circle cx="709.2" cy="230.9" r="6.95"/>
<circle cx="709.5" cy="230.9" r="6.95"/>
<circle cx="709.9" cy="230.9" r="6.95"/>
<circle cx="710.3" cy="230.9" r="6.95"/>
<circle cx="710.9" cy="230.9" r="6.95"/>
<circle cx="711.2" cy="226.8" r="6.95"/>
<circle cx="711.8" cy="226.8" r="6.95"/>
<circle cx="712.0" cy="226.8" r="6.95"/>
<circle cx="712.7" cy="226.8" r="6.95"/>
<circle cx="713.2" cy="226.8" r="6.95"/>
<circle cx="713.8" cy="226.8" r="6.95"/>
<circle cx="714.2" cy="226.8" r="6.95"/>
<circle cx="714.5" cy="226.8" r="6.95"/>
<circle cx="714.7" cy="226.8" r="6.95"/>
<circle cx="714.9" cy="226.8" r="6.95"/>
<circle cx="715.7" cy="226.8" r="6.95"/>
<circle cx="716.5" cy="226.8" r="6.95"/>
<circle cx="717.0" cy="226.8" r="6.95"/>
<circle cx="716.5" cy="226.8" r="6.95"/>
<circle cx="717.3" cy="226.8" r="6.95"/>
<circle cx="717.9" cy="222.7" r="6.95"/>
<circle cx="718.2" cy="222.7" r="6.95"/>
<circle cx="718.8" cy="222.7" r="6.95"/>
<circle cx="719.2" cy="222.7" r="6.95"/>
<circle cx="719.6" cy="222.7" r="6.95"/>
<circle cx="720.1" cy="222.7" r="6.95"/>
<circle cx="720.2" cy="222.7" r="6.95"/>
<circle cx="720.7" cy="222.7" r="6.95"/>
<circle cx="721.2" cy="222.7" r="6.95"/>
<circle cx="722.0" cy="222.7" r="6.95"/>
<circle cx="721.9" cy="222.7" r="6.95"/>
<circle cx="722.6" cy="222.7" r="6.95"/>
<circle cx="723.3" cy="222.7" r="6.95"/>
<circle cx="723.5" cy="222.7" r="6.95"/>
<circle cx="724.1" cy="222.7" r="6.95"/>
<circle cx="724.3" cy="218.6" r="6.95"/>
<circle cx="724.9" cy="218.6" r="6.95"/>
<circle cx="725.4" cy="218.6" r="6.95"/>
<circle cx="726.1" cy="218.6" r="6.95"/>
<circle cx="726.3" cy="218.6" r="6.95"/>
<circle cx="726.8" cy="218.6" r="6.95"/>
<circle cx="727.0" cy="218.6" r="6.95"/>
<circle cx="727.4" cy="218.6" r="6.95"/>
<circle cx="728.1" cy="218.6" r="6.95"/>
<circle cx="728.4" cy="218.6" r="6.95"/>
<circle cx="728.9" cy="218.6" r="6.95"/>
<circle cx="729.2" cy="218.6" r="6.95"/>
<circle cx="730.0" cy="218.6" r="6.95"/>
<circle cx="730.4" cy="218.6" r="6.95"/>
<circle cx="730.2" cy="218.6" r="6.95"/>
<circle cx="731.2" cy="214.4" r="6.95"/>
<circle cx="731.3" cy="214.4" r="6.95"/>
<circle cx="731.7" cy="214.4" r="6.95"/>
<circle cx="732.0" cy="214.4" r="6.95"/>
<circle cx="732.6" cy="214.4" r="6.95"/>
<circle cx="732.7" cy="214.4" r="6.95"/>
<circle cx="733.2" cy="214.4" r="6.95"/>
<circle cx="733.6" cy="214.4" r="6.95"/>
<circle cx="734.2" cy="214.4" r="6.95"/>
<circle cx="734.8" cy="214.4" r="6.95"/>
<circle cx="735.2" cy="214.4" r="6.95"/>
<circle cx="735.5" cy="214.4" r="6.95"/>
<circle cx="735.8" cy="214.4" r="6.95"/>
<circle cx="736.0" cy="214.4" r="6.95"/>
<circle cx="736.8" cy="210.3" r="6.95"/>
<circle cx="737.1" cy="210.3" r="6.95"/>
<circle cx="737.6" cy="210.3" r="6.95"/>
<circle cx="738.2" cy="210.3" r="6.95"/>
<circle cx="738.2" cy="210.3" r="6.95"/>
<circle cx="738.6" cy="210.3" r="6.95"/>
<circle cx="738.6" cy="210.3" r="6.95"/>
<circle cx="739.6" cy="210.3" r="6.95"/>
<circle cx="739.8" cy="210.3" r="6.95"/>
<circle cx="740.0" cy="210.3" r="6.95"/>
<circle cx="740.7" cy="210.3" r="6.95"/>
<circle cx="740.8" cy="210.3" r="6.95"/>
<circle cx="741.3" cy="206.2" r="6.95"/>
<circle cx="742.1" cy="206.2" r="6.95"/>
<circle cx="742.3" cy="206.2" r="6.95"/>
<circle cx="742.7" cy="206.2" r="6.95"/>
<circle cx="743.1" cy="206.2" r="6.95"/>
<circle cx="743.4" cy="206.2" r="6.95"/>
<circle cx="743.7" cy="206.2" r="6.95"/>
<circle cx="744.5" cy="206.2" r="6.95"/>
<circle cx="744.4" cy="206.2" r="6.95"/>
<circle cx="745.0" cy="206.2" r="6.95"/>
<circle cx="748.1" cy="202.3" r="6.95"/>
<circle cx="747.6" cy="202.2" r="6.95"/>
<circle cx="745.9" cy="205.3" r="6.95"/>
<circle cx="746.4" cy="204.5" r="6.95"/>
<circle cx="749.6" cy="200.2" r="6.95"/>
<circle cx="749.5" cy="200.6" r="6.95"/>
<circle cx="747.9" cy="202.9" r="6.95"/>
<circle cx="747.9" cy="202.3" r="6.95"/>
<circle cx="748.8" cy="201.5" r="6.95"/>
<circle cx="747.2" cy="203.5" r="6.95"/>
<circle cx="751.7" cy="200.2" r="6.95"/>
<circle cx="752.8" cy="198.7" r="6.95"/>
<circle cx="754.3" cy="197.1" r="6.95"/>
<circle cx="751.8" cy="200.1" r="6.95"/>
<circle cx="753.1" cy="199.0" r="6.95"/>
<circle cx="753.4" cy="198.0" r="6.95"/>
<circle cx="751.5" cy="200.8" r="6.95"/>
<circle cx="752.6" cy="199.3" r="6.95"/>
<circle cx="757.7" cy="196.0" r="6.95"/>
<circle cx="756.7" cy="197.5" r="6.95"/>
<circle cx="757.8" cy="196.4" r="6.95"/>
<circle cx="757.7" cy="196.2" r="6.95"/>
<circle cx="757.2" cy="197.0" r="6.95"/>
<circle cx="758.5" cy="195.0" r="6.95"/>
<circle cx="757.2" cy="196.7" r="6.95"/>
<circle cx="761.9" cy="193.6" r="6.95"/>
<circle cx="760.1" cy="195.8" r="6.95"/>
<circle cx="760.8" cy="194.8" r="6.95"/>
<circle cx="761.9" cy="193.6" r="6.95"/>
<circle cx="762.0" cy="193.1" r="6.95"/>
<circle cx="760.5" cy="195.6" r="6.95"/>
<circle cx="765.1" cy="190.0" r="6.95"/>
<circle cx="764.1" cy="191.4" r="6.95"/>
<circle cx="765.5" cy="189.8" r="6.95"/>
<circle cx="764.2" cy="191.7" r="6.95"/>
<circle cx="766.1" cy="189.0" r="6.95"/>
<circle cx="764.1" cy="191.3" r="6.95"/>
<circle cx="764.2" cy="191.5" r="6.95"/>
<circle cx="766.5" cy="188.1" r="6.95"/>
<circle cx="767.7" cy="185.9" r="6.95"/>
<circle cx="768.0" cy="185.4" r="6.95"/>
<circle cx="768.3" cy="186.0" r="6.95"/>
<circle cx="766.1" cy="188.0" r="6.95"/>
<circle cx="767.3" cy="186.9" r="6.95"/>
<circle cx="768.9" cy="181.8" r="6.95"/>
<circle cx="768.3" cy="182.9" r="6.95"/>
<circle cx="768.7" cy="182.6" r="6.95"/>
<circle cx="769.0" cy="182.1" r="6.95"/>
<circle cx="768.4" cy="183.5" r="6.95"/>
<circle cx="770.0" cy="178.3" r="6.95"/>
<circle cx="769.8" cy="178.3" r="6.95"/>
<circle cx="770.5" cy="178.0" r="6.95"/>
<circle cx="769.9" cy="178.2" r="6.95"/>
<circle cx="770.6" cy="175.2" r="6.95"/>
<circle cx="770.4" cy="175.8" r="6.95"/>
<circle cx="770.6" cy="176.1" r="6.95"/>
<circle cx="773.0" cy="172.2" r="6.95"/>
<circle cx="772.9" cy="171.8" r="6.95"/>
<circle cx="773.5" cy="171.2" r="6.95"/>
<circle cx="774.9" cy="167.3" r="6.95"/>
<circle cx="776.0" cy="166.4" r="6.95"/>
<circle cx="779.0" cy="164.3" r="6.95"/>
<circle cx="776.9" cy="161.3" r="6.95"/>
<circle cx="781.0" cy="156.4" r="6.95"/>
<circle cx="780.8" cy="156.4" r="6.95"/>
<circle cx="788.7" cy="151.7" r="6.95"/>
<circle cx="790.5" cy="144.1" r="6.95"/>
</g>
<line x1="99.7" y1="739.8" x2="791.7" y2="147.7" stroke="#f00" stroke-opacity="0.33" stroke-width="4.17"/>
<line x1="64.5" y1="881.38" x2="843.4" y2="107.52" stroke="#00f" stroke-opacity="0.33" stroke-width="4.17"/>
</g>
<g stroke="#000" stroke-width="1.1">
<line x1="128.5" y1="880.5" x2="128.5" y2="885.86"/>
<line x1="232.5" y1="880.5" x2="232.5" y2="885.86"/>
<line x1="335.5" y1="880.5" x2="335.5" y2="885.86"/>
<line x1="439.5" y1="880.5" x2="439.5" y2="885.86"/>
<line x1="542.5" y1="880.5" x2="542.5" y2="885.86"/>
<line x1="646.5" y1="880.5" x2="646.5" y2="885.86"/>
<line x1="749.5" y1="880.5" x2="749.5" y2="885.86"/>
<line x1="62.14" y1="819.5" x2="67.5" y2="819.5"/>
<line x1="62.14" y1="716.5" x2="67.5" y2="716.5"/>
<line x1="62.14" y1="613.5" x2="67.5" y2="613.5"/>
<line x1="62.14" y1="510.5" x2="67.5" y2="510.5"/>
<line x1="62.14" y1="407.5" x2="67.5" y2="407.5"/>
<line x1="62.14" y1="304.5" x2="67.5" y2="304.5"/>
<line x1="62.14" y1="202.5" x2="67.5" y2="202.5"/>
</g>
<rect x="67.5" y="110.5" width="775.0" height="770.0" fill="none" stroke="#000" stroke-width="1.1"/>
<g class="t">
<g font-size="13.89px">
<text x="128.5" y="901" text-anchor="middle">200</text>
<text x="232.5" y="901" text-anchor="middle">225</text>
<text x="335.5" y="901" text-anchor="middle">250</text>
<text x="439.5" y="901" text-anchor="middle">275</text>
<text x="542.5" y="901" text-anchor="middle">300</text>
<text x="646.5" y="901" text-anchor="middle">325</text>
<text x="749.5" y="901" text-anchor="middle">350</text>
<text x="57.8" y="824.3" text-anchor="end">200</text>
<text x="57.8" y="721.3" text-anchor="end">225</text>
<text x="57.8" y="618.3" text-anchor="end">250</text>
<text x="57.8" y="515.3" text-anchor="end">275</text>
<text x="57.8" y="412.3" text-anchor="end">300</text>
<text x="57.8" y="309.3" text-anchor="end">325</text>
<text x="57.8" y="207.3" text-anchor="end">350</text>
</g>
<text x="453.7" y="921" font-size="16.67px" text-anchor="middle">Simulated</text>
<text transform="translate(22.3 495.9) rotate(-90)" font-size="16.67px" text-anchor="middle">Observed</text>
<g font-size="19.44px" text-anchor="middle"><text x="441.2" y="25.4">Q-Q plot at is.vi.7476 for downward_longwave_flux</text><text x="441.2" y="47.6">from rav2-16-17 during spring</text></g>
</g>
</svg></body></html>
